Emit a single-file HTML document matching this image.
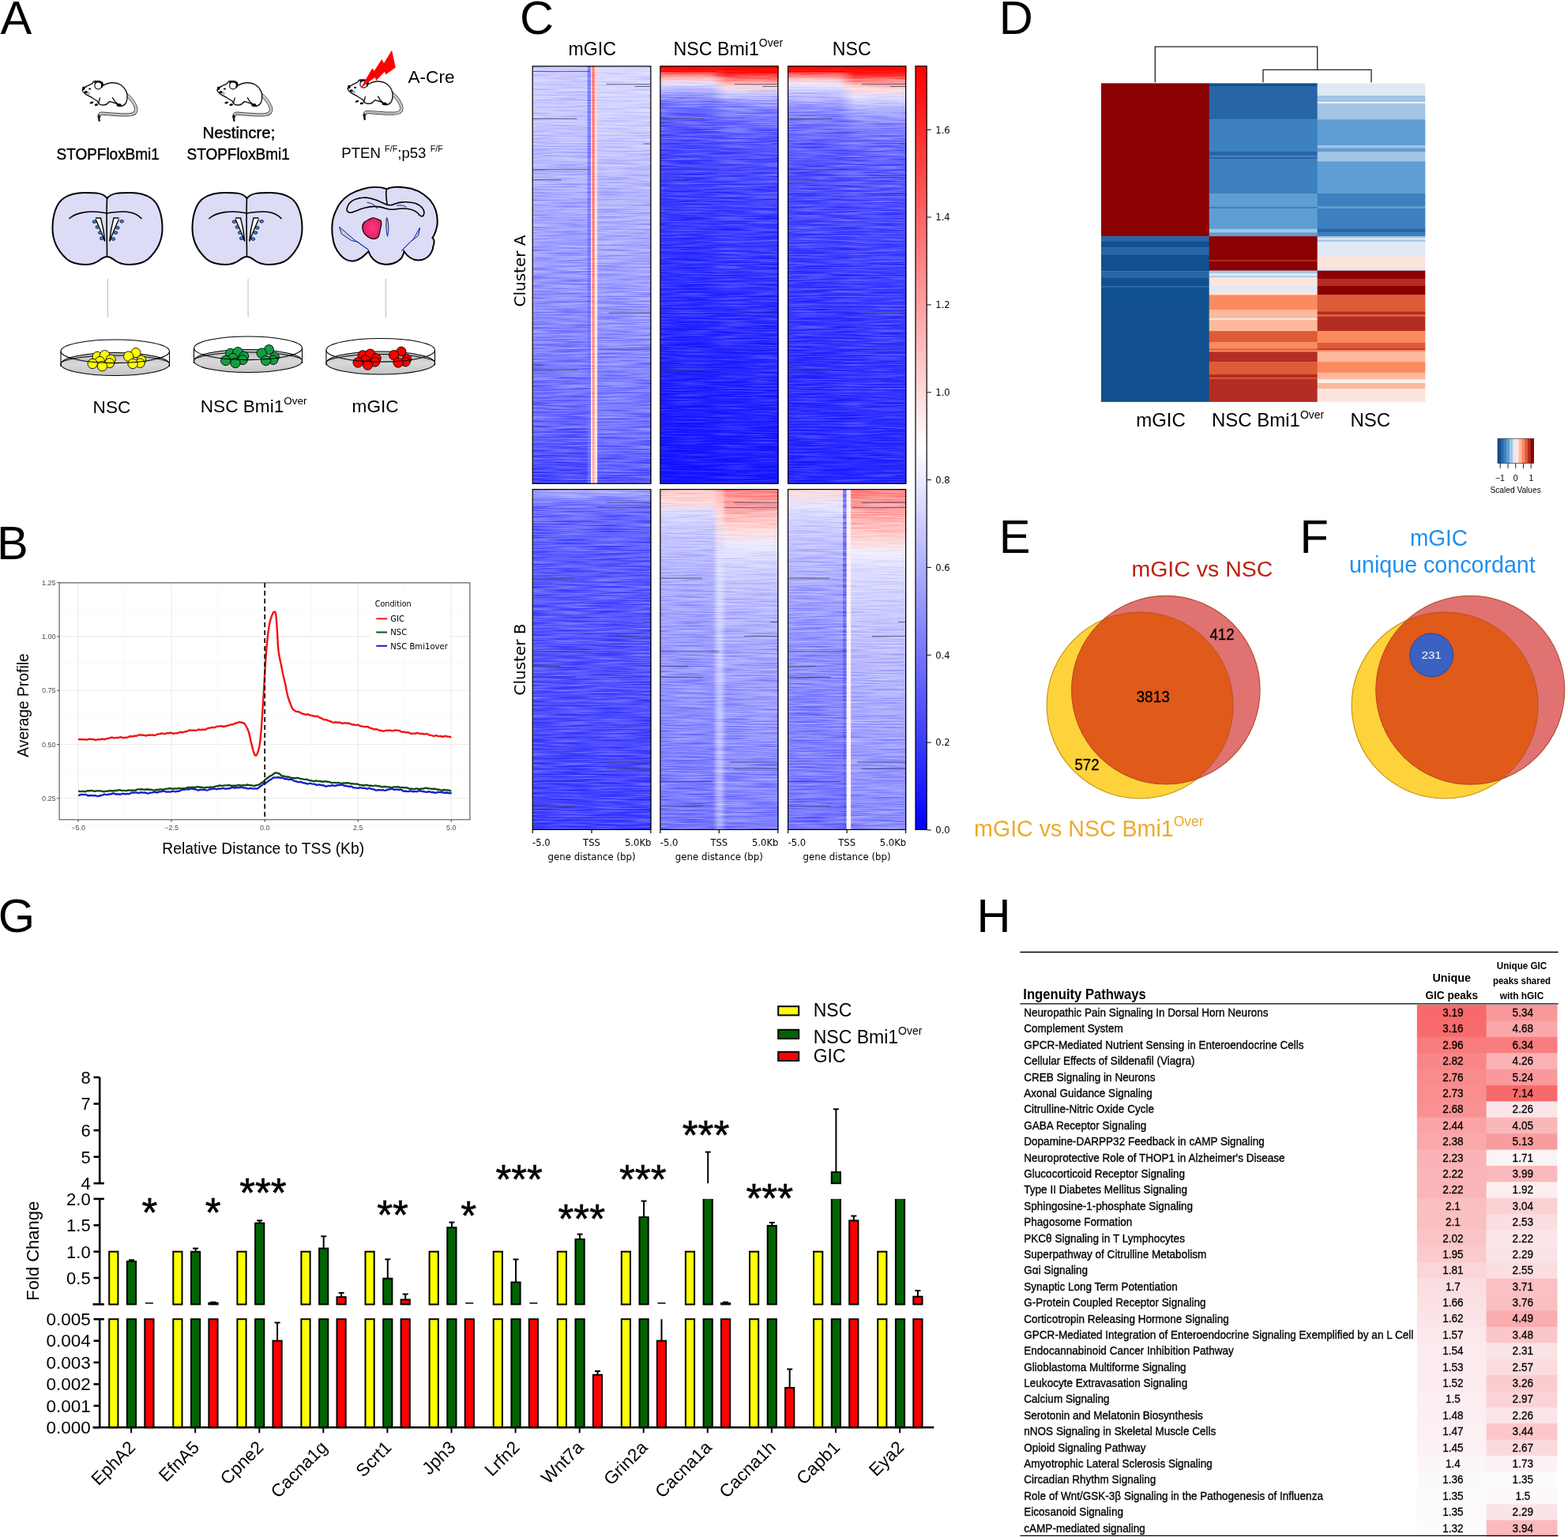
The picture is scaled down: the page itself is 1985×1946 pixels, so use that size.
<!DOCTYPE html>
<html><head><meta charset="utf-8"><title>Figure</title>
<style>html,body{margin:0;padding:0;background:#fff;overflow:hidden}svg{display:block}</style>
</head><body>
<svg width="1985" height="1946" viewBox="0 0 1985 1946">
<defs>
<linearGradient id="dishg" x1="0" y1="0" x2="0" y2="1"><stop offset="0" stop-color="#b8b8b8"/><stop offset="0.5" stop-color="#d9d9d9"/><stop offset="1" stop-color="#c4c4c4"/></linearGradient>

<linearGradient id="g1" x1="0" y1="0" x2="0" y2="1"><stop offset="0.0000" stop-color="#cfcfff"/><stop offset="0.1260" stop-color="#c7c7ff"/><stop offset="0.3148" stop-color="#adadff"/><stop offset="0.5037" stop-color="#9999ff"/><stop offset="0.6925" stop-color="#8080ff"/><stop offset="0.8625" stop-color="#6666ff"/><stop offset="1.0000" stop-color="#4242ff"/></linearGradient>
<linearGradient id="g2" x1="0" y1="0" x2="0" y2="1"><stop offset="0.0000" stop-color="#d9d9ff"/><stop offset="0.1260" stop-color="#d1d1ff"/><stop offset="0.3148" stop-color="#b5b5ff"/><stop offset="0.5037" stop-color="#a3a3ff"/><stop offset="0.6925" stop-color="#8c8cff"/><stop offset="0.8625" stop-color="#7575ff"/><stop offset="1.0000" stop-color="#5454ff"/></linearGradient>
<linearGradient id="g3" x1="0" y1="0" x2="0" y2="1"><stop offset="0.0000" stop-color="#8585ff"/><stop offset="0.5981" stop-color="#7a7aff"/><stop offset="1.0000" stop-color="#6b6bff"/></linearGradient>
<linearGradient id="g4" x1="0" y1="0" x2="0" y2="1"><stop offset="0.0000" stop-color="#ffd9d9"/><stop offset="0.5981" stop-color="#ffe6e6"/><stop offset="1.0000" stop-color="#fff7f7"/></linearGradient>
<linearGradient id="g5" x1="0" y1="0" x2="0" y2="1"><stop offset="0.0000" stop-color="#ff7373"/><stop offset="0.4093" stop-color="#ff7a7a"/><stop offset="0.7870" stop-color="#ff9494"/><stop offset="1.0000" stop-color="#ffb2b2"/></linearGradient>
<linearGradient id="g6" x1="0" y1="0" x2="0" y2="1"><stop offset="0.0000" stop-color="#ffd1d1"/><stop offset="0.5981" stop-color="#ffe6e6"/><stop offset="1.0000" stop-color="#ffe0e0"/></linearGradient>
<linearGradient id="g7" x1="0" y1="0" x2="0" y2="1"><stop offset="0.0000" stop-color="#ff0000"/><stop offset="0.0108" stop-color="#ff0f0f"/><stop offset="0.0202" stop-color="#ff7373"/><stop offset="0.0315" stop-color="#ffc7c7"/><stop offset="0.0429" stop-color="#e0e0ff"/><stop offset="0.0618" stop-color="#adadff"/><stop offset="0.0882" stop-color="#7878ff"/><stop offset="0.1354" stop-color="#5c5cff"/><stop offset="0.2015" stop-color="#4747ff"/><stop offset="0.3148" stop-color="#3b3bff"/><stop offset="0.5037" stop-color="#3030ff"/><stop offset="0.6925" stop-color="#2424ff"/><stop offset="1.0000" stop-color="#1414ff"/></linearGradient>
<linearGradient id="g8" x1="0" y1="0" x2="0" y2="1"><stop offset="0.0000" stop-color="#ff0000"/><stop offset="0.0164" stop-color="#ff0d0d"/><stop offset="0.0259" stop-color="#ff5454"/><stop offset="0.0372" stop-color="#ff9999"/><stop offset="0.0485" stop-color="#ffd9d9"/><stop offset="0.0674" stop-color="#ccccff"/><stop offset="0.0976" stop-color="#8c8cff"/><stop offset="0.1449" stop-color="#6969ff"/><stop offset="0.2110" stop-color="#4f4fff"/><stop offset="0.3337" stop-color="#4040ff"/><stop offset="0.5037" stop-color="#3333ff"/><stop offset="0.6925" stop-color="#2929ff"/><stop offset="1.0000" stop-color="#1a1aff"/></linearGradient>
<linearGradient id="m9g" gradientUnits="userSpaceOnUse" x1="900.3" y1="0" x2="920.3" y2="0"><stop offset="0" stop-color="#000"/><stop offset="1" stop-color="#fff"/></linearGradient><mask id="m9" maskUnits="userSpaceOnUse" x="900.3" y="83.3" width="85.6" height="529.5"><rect x="900.3" y="83.3" width="85.6" height="529.5" fill="url(#m9g)"/></mask>
<linearGradient id="g10" x1="0" y1="0" x2="0" y2="1"><stop offset="0.0000" stop-color="#ff0000"/><stop offset="0.0127" stop-color="#ff1414"/><stop offset="0.0221" stop-color="#ff7878"/><stop offset="0.0334" stop-color="#ffc7c7"/><stop offset="0.0448" stop-color="#ebebff"/><stop offset="0.0655" stop-color="#c4c4ff"/><stop offset="0.1071" stop-color="#8c8cff"/><stop offset="0.1486" stop-color="#7070ff"/><stop offset="0.1958" stop-color="#5e5eff"/><stop offset="0.3148" stop-color="#4a4aff"/><stop offset="0.5037" stop-color="#3b3bff"/><stop offset="0.6925" stop-color="#3030ff"/><stop offset="1.0000" stop-color="#2424ff"/></linearGradient>
<linearGradient id="g11" x1="0" y1="0" x2="0" y2="1"><stop offset="0.0000" stop-color="#ff0000"/><stop offset="0.0183" stop-color="#ff0f0f"/><stop offset="0.0297" stop-color="#ff6363"/><stop offset="0.0429" stop-color="#ffabab"/><stop offset="0.0561" stop-color="#ffdede"/><stop offset="0.0788" stop-color="#dbdbff"/><stop offset="0.1165" stop-color="#a1a1ff"/><stop offset="0.1637" stop-color="#7a7aff"/><stop offset="0.2204" stop-color="#6161ff"/><stop offset="0.3337" stop-color="#4f4fff"/><stop offset="0.5037" stop-color="#4040ff"/><stop offset="0.6925" stop-color="#3636ff"/><stop offset="1.0000" stop-color="#2626ff"/></linearGradient>
<linearGradient id="m12g" gradientUnits="userSpaceOnUse" x1="1062.1" y1="0" x2="1082.1" y2="0"><stop offset="0" stop-color="#000"/><stop offset="1" stop-color="#fff"/></linearGradient><mask id="m12" maskUnits="userSpaceOnUse" x="1062.1" y="83.3" width="85.6" height="529.5"><rect x="1062.1" y="83.3" width="85.6" height="529.5" fill="url(#m12g)"/></mask>
<linearGradient id="g13" x1="0" y1="0" x2="0" y2="1"><stop offset="0.0000" stop-color="#adadff"/><stop offset="0.0208" stop-color="#9999ff"/><stop offset="0.0463" stop-color="#7373ff"/><stop offset="0.0949" stop-color="#6666ff"/><stop offset="0.1991" stop-color="#5c5cff"/><stop offset="0.5347" stop-color="#5252ff"/><stop offset="1.0000" stop-color="#4040ff"/></linearGradient>
<linearGradient id="g14" x1="0" y1="0" x2="0" y2="1"><stop offset="0.0000" stop-color="#ffc7c7"/><stop offset="0.0370" stop-color="#ffdbdb"/><stop offset="0.0694" stop-color="#dbdbff"/><stop offset="0.1181" stop-color="#c9c9ff"/><stop offset="0.1875" stop-color="#bdbdff"/><stop offset="0.2546" stop-color="#b2b2ff"/><stop offset="0.4120" stop-color="#a1a1ff"/><stop offset="0.5625" stop-color="#9494ff"/><stop offset="0.7662" stop-color="#8585ff"/><stop offset="1.0000" stop-color="#7575ff"/></linearGradient>
<linearGradient id="g15" x1="0" y1="0" x2="0" y2="1"><stop offset="0.0000" stop-color="#ff8585"/><stop offset="0.0486" stop-color="#ffa1a1"/><stop offset="0.0833" stop-color="#ffbfbf"/><stop offset="0.1181" stop-color="#ffdbdb"/><stop offset="0.1644" stop-color="#ebebff"/><stop offset="0.2106" stop-color="#d9d9ff"/><stop offset="0.2801" stop-color="#c4c4ff"/><stop offset="0.4120" stop-color="#b0b0ff"/><stop offset="0.5347" stop-color="#a3a3ff"/><stop offset="0.7662" stop-color="#9191ff"/><stop offset="1.0000" stop-color="#8080ff"/></linearGradient>
<linearGradient id="m16g" gradientUnits="userSpaceOnUse" x1="908.3" y1="0" x2="916.3" y2="0"><stop offset="0" stop-color="#000"/><stop offset="1" stop-color="#fff"/></linearGradient><mask id="m16" maskUnits="userSpaceOnUse" x="908.3" y="619.0" width="77.6" height="432.0"><rect x="908.3" y="619.0" width="77.6" height="432.0" fill="url(#m16g)"/></mask>
<linearGradient id="g17" x1="0" y1="0" x2="0" y2="1"><stop offset="0.0000" stop-color="#ffb2b2"/><stop offset="0.0718" stop-color="#ffd9d9"/><stop offset="0.1875" stop-color="#e0e0ff"/><stop offset="0.4190" stop-color="#ccccff"/><stop offset="0.7662" stop-color="#bdbdff"/><stop offset="1.0000" stop-color="#adadff"/></linearGradient>
<linearGradient id="m18g" x1="0" y1="0" x2="1" y2="0"><stop offset="0" stop-color="#fff" stop-opacity="0"/><stop offset="0.4" stop-color="#fff" stop-opacity="1"/><stop offset="0.65" stop-color="#fff" stop-opacity="1"/><stop offset="1" stop-color="#fff" stop-opacity="0"/></linearGradient><mask id="m18" maskUnits="userSpaceOnUse" x="902.3" y="619.0" width="17.0" height="432.0"><rect x="902.3" y="619.0" width="17.0" height="432.0" fill="url(#m18g)"/></mask>
<linearGradient id="g19" x1="0" y1="0" x2="0" y2="1"><stop offset="0.0000" stop-color="#ffd9d9"/><stop offset="0.0486" stop-color="#e6e6ff"/><stop offset="0.0949" stop-color="#d1d1ff"/><stop offset="0.1875" stop-color="#bdbdff"/><stop offset="0.3264" stop-color="#a3a3ff"/><stop offset="0.5023" stop-color="#9191ff"/><stop offset="0.7662" stop-color="#8080ff"/><stop offset="1.0000" stop-color="#7373ff"/></linearGradient>
<linearGradient id="g20" x1="0" y1="0" x2="0" y2="1"><stop offset="0.0000" stop-color="#8080ff"/><stop offset="0.1875" stop-color="#7373ff"/><stop offset="1.0000" stop-color="#6b6bff"/></linearGradient>
<linearGradient id="g21" x1="0" y1="0" x2="0" y2="1"><stop offset="0.0000" stop-color="#fff0f0"/><stop offset="1.0000" stop-color="#fff7f7"/></linearGradient>
<linearGradient id="g22" x1="0" y1="0" x2="0" y2="1"><stop offset="0.0000" stop-color="#ff7a7a"/><stop offset="0.0394" stop-color="#ff9999"/><stop offset="0.0972" stop-color="#ffb8b8"/><stop offset="0.1551" stop-color="#ffdbdb"/><stop offset="0.1875" stop-color="#f0f0ff"/><stop offset="0.2338" stop-color="#dedeff"/><stop offset="0.3727" stop-color="#c9c9ff"/><stop offset="0.5347" stop-color="#b8b8ff"/><stop offset="0.7662" stop-color="#9e9eff"/><stop offset="1.0000" stop-color="#8c8cff"/></linearGradient>
<filter id="streak" x="0" y="0" width="1" height="1" color-interpolation-filters="sRGB"><feTurbulence type="fractalNoise" baseFrequency="0.02 0.6" numOctaves="2" seed="7"/><feColorMatrix type="matrix" values="2.2 0 0 0 -0.6  2.2 0 0 0 -0.6  2.2 0 0 0 -0.6  0 0 0 0 1"/></filter>
<linearGradient id="cbar" x1="0" y1="1" x2="0" y2="0"><stop offset="0" stop-color="#0000ff"/><stop offset="0.5" stop-color="#ffffff"/><stop offset="1" stop-color="#ff0000"/></linearGradient>

<clipPath id="vc1"><circle cx="1443.1" cy="893.0" r="118.0"/></clipPath><clipPath id="vc1b"><circle cx="1475.9" cy="873.6" r="119.2"/></clipPath>
<clipPath id="vc2"><circle cx="1829.1" cy="893.0" r="118.0"/></clipPath><clipPath id="vc2b"><circle cx="1861.3" cy="873.6" r="119.4"/></clipPath>


</defs>
<rect width="1985" height="1946" fill="#fff"/>
<text x="0.5" y="42.6" font-size="59.6" font-family="'Liberation Sans', Arial, sans-serif" >A</text>
<text x="-4.0" y="707.8" font-size="59.6" font-family="'Liberation Sans', Arial, sans-serif" >B</text>
<text x="658.0" y="42.6" font-size="59.6" font-family="'Liberation Sans', Arial, sans-serif" >C</text>
<text x="1264.7" y="42.6" font-size="59.6" font-family="'Liberation Sans', Arial, sans-serif" >D</text>
<text x="1264.8" y="700.0" font-size="59.6" font-family="'Liberation Sans', Arial, sans-serif" >E</text>
<text x="1645.4" y="700.0" font-size="59.6" font-family="'Liberation Sans', Arial, sans-serif" >F</text>
<text x="-2.2" y="1179.8" font-size="59.6" font-family="'Liberation Sans', Arial, sans-serif" >G</text>
<text x="1236.5" y="1179.8" font-size="59.6" font-family="'Liberation Sans', Arial, sans-serif" >H</text>
<g transform="translate(100,95) scale(1.0)" stroke-linecap="round" stroke-linejoin="round"><path d="M60.5,25 C65,29 70,35 72,41 C73.5,46 71,49.3 65,50.2 C55,50.8 40,49.6 30,48.6 C27.5,48.4 25.8,50 25.4,52.5" fill="none" stroke="#3a3a3a" stroke-width="4.2"/><path d="M60.5,25 C65,29 70,35 72,41 C73.5,46 71,49.3 65,50.2 C55,50.8 40,49.6 30,48.6 C27.5,48.4 25.8,50 25.4,52.5" fill="none" stroke="#fff" stroke-width="2.4"/><path d="M60.5,25 C65,29 70,35 72,41 C73.5,46 71,49.3 65,50.2 C55,50.8 40,49.6 30,48.6 C27.5,48.4 25.8,50 25.4,52.5" fill="none" stroke="#777" stroke-width="0.8"/><path d="M25.4,51.5 C25.1,54 25.3,56 25.7,57.7" fill="none" stroke="#111" stroke-width="2.4"/><path d="M4.1,18.9 C6,16.5 8,15 10,14 C12.5,12.6 15,11.6 16.8,10.8 C17.5,9 18.5,7.8 20.5,7.6 C22,7.5 23.5,8 25,8.6 L30.5,13.2 C34,11 38,9.8 41.2,9.7 C46,9.6 50,10.5 53,12.5 C57,15.5 60,19.5 61,24.7 C61.5,28.5 61,32 59.7,35 C58.5,37.5 56.5,39 53.6,39.5 C51,39.5 49,38 47.4,36 C44,35 41,34 38.5,33.5 C37,35.5 35,37.5 32.5,37.8 C30,38.2 27,38 25.5,36.5 C24.5,35.5 24,34.5 23.5,33 C20,31 17.5,29.5 15.5,28 C12,26.5 9,25 7,23 C5.5,21.8 4.5,20.5 4.1,18.9 Z" fill="#fff" stroke="#111" stroke-width="1.4"/><circle cx="24.3" cy="13.4" r="4.4" fill="#fff" stroke="#111" stroke-width="1.2"/><path d="M20.2,9.6 C22.5,7.3 27.5,7.4 29.6,10.2 C30.3,11.8 30,13.6 28.8,15.2" fill="none" stroke="#000" stroke-width="2"/><ellipse cx="13.7" cy="17.6" rx="1.6" ry="1.1" fill="#000"/><ellipse cx="5.9" cy="16.8" rx="1.7" ry="2.3" fill="#000"/><ellipse cx="8.8" cy="21.6" rx="1.9" ry="1.6" fill="#000"/><path d="M10,22.5 C11,23.5 12,24 13,24.5 M11,21 L13.5,23" fill="none" stroke="#222" stroke-width="0.7"/><path d="M26.5,29 C26,31 25.4,33 24.8,35.5" fill="none" stroke="#111" stroke-width="1.3"/><path d="M42.6,28.8 C44,32 46,34.5 48.5,36.2" fill="none" stroke="#111" stroke-width="1.4"/><ellipse cx="16" cy="35" rx="2.4" ry="1.2" fill="#000" transform="rotate(-15 16 35)"/><ellipse cx="22" cy="37.6" rx="2.3" ry="1.3" fill="#000" transform="rotate(-10 22 37.6)"/><ellipse cx="50.6" cy="38" rx="3" ry="1.9" fill="#000"/><path d="M54,38.6 C56.8,38.2 58.8,36.4 60,33.5" fill="none" stroke="#333" stroke-width="0.9"/></g>
<g transform="translate(270.7,95) scale(1.0)" stroke-linecap="round" stroke-linejoin="round"><path d="M60.5,25 C65,29 70,35 72,41 C73.5,46 71,49.3 65,50.2 C55,50.8 40,49.6 30,48.6 C27.5,48.4 25.8,50 25.4,52.5" fill="none" stroke="#3a3a3a" stroke-width="4.2"/><path d="M60.5,25 C65,29 70,35 72,41 C73.5,46 71,49.3 65,50.2 C55,50.8 40,49.6 30,48.6 C27.5,48.4 25.8,50 25.4,52.5" fill="none" stroke="#fff" stroke-width="2.4"/><path d="M60.5,25 C65,29 70,35 72,41 C73.5,46 71,49.3 65,50.2 C55,50.8 40,49.6 30,48.6 C27.5,48.4 25.8,50 25.4,52.5" fill="none" stroke="#777" stroke-width="0.8"/><path d="M25.4,51.5 C25.1,54 25.3,56 25.7,57.7" fill="none" stroke="#111" stroke-width="2.4"/><path d="M4.1,18.9 C6,16.5 8,15 10,14 C12.5,12.6 15,11.6 16.8,10.8 C17.5,9 18.5,7.8 20.5,7.6 C22,7.5 23.5,8 25,8.6 L30.5,13.2 C34,11 38,9.8 41.2,9.7 C46,9.6 50,10.5 53,12.5 C57,15.5 60,19.5 61,24.7 C61.5,28.5 61,32 59.7,35 C58.5,37.5 56.5,39 53.6,39.5 C51,39.5 49,38 47.4,36 C44,35 41,34 38.5,33.5 C37,35.5 35,37.5 32.5,37.8 C30,38.2 27,38 25.5,36.5 C24.5,35.5 24,34.5 23.5,33 C20,31 17.5,29.5 15.5,28 C12,26.5 9,25 7,23 C5.5,21.8 4.5,20.5 4.1,18.9 Z" fill="#fff" stroke="#111" stroke-width="1.4"/><circle cx="24.3" cy="13.4" r="4.4" fill="#fff" stroke="#111" stroke-width="1.2"/><path d="M20.2,9.6 C22.5,7.3 27.5,7.4 29.6,10.2 C30.3,11.8 30,13.6 28.8,15.2" fill="none" stroke="#000" stroke-width="2"/><ellipse cx="13.7" cy="17.6" rx="1.6" ry="1.1" fill="#000"/><ellipse cx="5.9" cy="16.8" rx="1.7" ry="2.3" fill="#000"/><ellipse cx="8.8" cy="21.6" rx="1.9" ry="1.6" fill="#000"/><path d="M10,22.5 C11,23.5 12,24 13,24.5 M11,21 L13.5,23" fill="none" stroke="#222" stroke-width="0.7"/><path d="M26.5,29 C26,31 25.4,33 24.8,35.5" fill="none" stroke="#111" stroke-width="1.3"/><path d="M42.6,28.8 C44,32 46,34.5 48.5,36.2" fill="none" stroke="#111" stroke-width="1.4"/><ellipse cx="16" cy="35" rx="2.4" ry="1.2" fill="#000" transform="rotate(-15 16 35)"/><ellipse cx="22" cy="37.6" rx="2.3" ry="1.3" fill="#000" transform="rotate(-10 22 37.6)"/><ellipse cx="50.6" cy="38" rx="3" ry="1.9" fill="#000"/><path d="M54,38.6 C56.8,38.2 58.8,36.4 60,33.5" fill="none" stroke="#333" stroke-width="0.9"/></g>
<g transform="translate(436,93.3) scale(1.0)" stroke-linecap="round" stroke-linejoin="round"><path d="M60.5,25 C65,29 70,35 72,41 C73.5,46 71,49.3 65,50.2 C55,50.8 40,49.6 30,48.6 C27.5,48.4 25.8,50 25.4,52.5" fill="none" stroke="#3a3a3a" stroke-width="4.2"/><path d="M60.5,25 C65,29 70,35 72,41 C73.5,46 71,49.3 65,50.2 C55,50.8 40,49.6 30,48.6 C27.5,48.4 25.8,50 25.4,52.5" fill="none" stroke="#fff" stroke-width="2.4"/><path d="M60.5,25 C65,29 70,35 72,41 C73.5,46 71,49.3 65,50.2 C55,50.8 40,49.6 30,48.6 C27.5,48.4 25.8,50 25.4,52.5" fill="none" stroke="#777" stroke-width="0.8"/><path d="M25.4,51.5 C25.1,54 25.3,56 25.7,57.7" fill="none" stroke="#111" stroke-width="2.4"/><path d="M4.1,18.9 C6,16.5 8,15 10,14 C12.5,12.6 15,11.6 16.8,10.8 C17.5,9 18.5,7.8 20.5,7.6 C22,7.5 23.5,8 25,8.6 L30.5,13.2 C34,11 38,9.8 41.2,9.7 C46,9.6 50,10.5 53,12.5 C57,15.5 60,19.5 61,24.7 C61.5,28.5 61,32 59.7,35 C58.5,37.5 56.5,39 53.6,39.5 C51,39.5 49,38 47.4,36 C44,35 41,34 38.5,33.5 C37,35.5 35,37.5 32.5,37.8 C30,38.2 27,38 25.5,36.5 C24.5,35.5 24,34.5 23.5,33 C20,31 17.5,29.5 15.5,28 C12,26.5 9,25 7,23 C5.5,21.8 4.5,20.5 4.1,18.9 Z" fill="#fff" stroke="#111" stroke-width="1.4"/><circle cx="24.3" cy="13.4" r="4.4" fill="#fff" stroke="#111" stroke-width="1.2"/><path d="M20.2,9.6 C22.5,7.3 27.5,7.4 29.6,10.2 C30.3,11.8 30,13.6 28.8,15.2" fill="none" stroke="#000" stroke-width="2"/><ellipse cx="13.7" cy="17.6" rx="1.6" ry="1.1" fill="#000"/><ellipse cx="5.9" cy="16.8" rx="1.7" ry="2.3" fill="#000"/><ellipse cx="8.8" cy="21.6" rx="1.9" ry="1.6" fill="#000"/><path d="M10,22.5 C11,23.5 12,24 13,24.5 M11,21 L13.5,23" fill="none" stroke="#222" stroke-width="0.7"/><path d="M26.5,29 C26,31 25.4,33 24.8,35.5" fill="none" stroke="#111" stroke-width="1.3"/><path d="M42.6,28.8 C44,32 46,34.5 48.5,36.2" fill="none" stroke="#111" stroke-width="1.4"/><ellipse cx="16" cy="35" rx="2.4" ry="1.2" fill="#000" transform="rotate(-15 16 35)"/><ellipse cx="22" cy="37.6" rx="2.3" ry="1.3" fill="#000" transform="rotate(-10 22 37.6)"/><ellipse cx="50.6" cy="38" rx="3" ry="1.9" fill="#000"/><path d="M54,38.6 C56.8,38.2 58.8,36.4 60,33.5" fill="none" stroke="#333" stroke-width="0.9"/></g>
<path d="M456.4,111.8 L471.4,86.3 L473.5,89.9 L483.4,74.9 L486,80 L496.1,63.6 L500.8,85.5 L488.2,94.5 L487.1,90.8 L476.2,102.1 L474.6,98 Z" fill="#ff0000"/>
<text x="516.5" y="105.2" font-size="22.6" font-family="'Liberation Sans', Arial, sans-serif" >A-Cre</text>
<text x="71.6" y="202.0" font-size="20" font-family="'Liberation Sans', Arial, sans-serif" textLength="130.2" lengthAdjust="spacingAndGlyphs" stroke="#000" stroke-width="0.45">STOPFloxBmi1</text>
<text x="256.5" y="174.6" font-size="20" font-family="'Liberation Sans', Arial, sans-serif" textLength="91.8" lengthAdjust="spacingAndGlyphs" stroke="#000" stroke-width="0.45">Nestincre;</text>
<text x="236.6" y="202.0" font-size="20" font-family="'Liberation Sans', Arial, sans-serif" textLength="130.2" lengthAdjust="spacingAndGlyphs" stroke="#000" stroke-width="0.45">STOPFloxBmi1</text>
<text x="432.3" y="199.7" font-size="18.6" font-family="'Liberation Sans', Arial, sans-serif">PTEN <tspan font-size="10.8" dy="-7.5">F/F</tspan><tspan dy="7.5">;p53 </tspan><tspan font-size="10.8" dy="-7.5">F/F</tspan></text>
<g transform="translate(66.5,244)"><path d="M69,7 C64,0 55,0 40,0 C27,0 20,3 14,7 C4,14 0,30 0,45 C0,62 8,75 18,84 C25,90 33,91 42,91 C50,91 55,89 60,85 C64,82 67,81 69,81 C71,81 74,82 78,85 C83,89 88,91 97,91 C106,91 114,90 121,84 C131,75 139,62 139,45 C139,30 135,14 125,7 C119,3 112,0 99,0 C84,0 75,0 69,7 Z" fill="#dcdcf7" stroke="#000" stroke-width="2"/><path d="M69,7 C68,30 69,60 69,81" fill="none" stroke="#000" stroke-width="1.6"/><path d="M21,33 C30,24 50,22 69,26 C88,23 103,22 113,33" fill="none" stroke="#000" stroke-width="1.6"/><path d="M54.5,32 L61,32 C63.5,41 65.5,52 66.2,61.5 C62.5,52 58,41 54.5,33.5" fill="#fff" stroke="#000" stroke-width="1.4"/><path d="M84,32 L77.5,32 C75,41 73,52 72.3,61.5 C76,52 80.5,41 84,33.5" fill="#fff" stroke="#000" stroke-width="1.4"/><ellipse cx="53" cy="36.7" rx="2.3" ry="1.8" fill="#3a86ff" stroke="#000" stroke-width="0.8"/><ellipse cx="56.8" cy="43.5" rx="2.3" ry="1.8" fill="#3a86ff" stroke="#000" stroke-width="0.8"/><ellipse cx="60.2" cy="50.6" rx="2.3" ry="1.8" fill="#3a86ff" stroke="#000" stroke-width="0.8"/><ellipse cx="62.2" cy="57.8" rx="2.3" ry="1.8" fill="#3a86ff" stroke="#000" stroke-width="0.8"/><ellipse cx="87.7" cy="36.3" rx="2.3" ry="1.8" fill="#3a86ff" stroke="#000" stroke-width="0.8"/><ellipse cx="82.3" cy="44.4" rx="2.3" ry="1.8" fill="#3a86ff" stroke="#000" stroke-width="0.8"/><ellipse cx="80" cy="50.6" rx="2.3" ry="1.8" fill="#3a86ff" stroke="#000" stroke-width="0.8"/><ellipse cx="76.9" cy="58.6" rx="2.3" ry="1.8" fill="#3a86ff" stroke="#000" stroke-width="0.8"/></g>
<g transform="translate(243.5,244)"><path d="M69,7 C64,0 55,0 40,0 C27,0 20,3 14,7 C4,14 0,30 0,45 C0,62 8,75 18,84 C25,90 33,91 42,91 C50,91 55,89 60,85 C64,82 67,81 69,81 C71,81 74,82 78,85 C83,89 88,91 97,91 C106,91 114,90 121,84 C131,75 139,62 139,45 C139,30 135,14 125,7 C119,3 112,0 99,0 C84,0 75,0 69,7 Z" fill="#dcdcf7" stroke="#000" stroke-width="2"/><path d="M69,7 C68,30 69,60 69,81" fill="none" stroke="#000" stroke-width="1.6"/><path d="M21,33 C30,24 50,22 69,26 C88,23 103,22 113,33" fill="none" stroke="#000" stroke-width="1.6"/><path d="M54.5,32 L61,32 C63.5,41 65.5,52 66.2,61.5 C62.5,52 58,41 54.5,33.5" fill="#fff" stroke="#000" stroke-width="1.4"/><path d="M84,32 L77.5,32 C75,41 73,52 72.3,61.5 C76,52 80.5,41 84,33.5" fill="#fff" stroke="#000" stroke-width="1.4"/><ellipse cx="53" cy="36.7" rx="2.3" ry="1.8" fill="#3a86ff" stroke="#000" stroke-width="0.8"/><ellipse cx="56.8" cy="43.5" rx="2.3" ry="1.8" fill="#3a86ff" stroke="#000" stroke-width="0.8"/><ellipse cx="60.2" cy="50.6" rx="2.3" ry="1.8" fill="#3a86ff" stroke="#000" stroke-width="0.8"/><ellipse cx="62.2" cy="57.8" rx="2.3" ry="1.8" fill="#3a86ff" stroke="#000" stroke-width="0.8"/><ellipse cx="87.7" cy="36.3" rx="2.3" ry="1.8" fill="#3a86ff" stroke="#000" stroke-width="0.8"/><ellipse cx="82.3" cy="44.4" rx="2.3" ry="1.8" fill="#3a86ff" stroke="#000" stroke-width="0.8"/><ellipse cx="80" cy="50.6" rx="2.3" ry="1.8" fill="#3a86ff" stroke="#000" stroke-width="0.8"/><ellipse cx="76.9" cy="58.6" rx="2.3" ry="1.8" fill="#3a86ff" stroke="#000" stroke-width="0.8"/></g>
<g transform="translate(419.5,236.3)"><path d="M70,3 C62,0 50,0 40,3 C25,7 12,15 6,30 C0,42 0,55 2,66 C3,74 6,80 11,86 C16,92 22,95 29,94 C36,93 41,88 47,82 C49,89 55,96 65,98 C75,100 84,96 89,90 C91,86 92,84 92,82 C96,88 103,94 112,93 C122,92 128,84 129,75 C131,70 130,66 128,65 C131,60 133,55 134,48 C135,36 132,25 124,16 C116,8 105,2 92,1 C84,0 76,0 70,3 Z" fill="#dcdcf7" stroke="#000" stroke-width="2"/><path d="M70,3 C68,10 70,18 71,24" fill="none" stroke="#000" stroke-width="1.6"/><path d="M20,27 C22,18 30,15 40,14 C48,13 60,18 68,22 C72,24 76,24 80,22 C88,19 98,19 106,21 C114,24 119,30 117,35 C116,39 112,38 110,34 C104,28 95,27 86,28 C80,29 76,30 70,28 C62,25 52,24 42,27 C34,29 28,33 24,33 C20,33 19,30 20,27 Z" fill="#dcdcf7" stroke="#000" stroke-width="1.6"/><path d="M45,20 C52,21 56,24 58,28" fill="none" stroke="#0020a0" stroke-width="1"/><path d="M83,24 C88,23 92,24 95,26" fill="none" stroke="#0020a0" stroke-width="1"/><path d="M10,51 L13,60 L25,68 L33,70 L47,80 L30,68 Z" fill="#cfcfd6" stroke="#0020a0" stroke-width="1"/><path d="M112,52 L110,62 L100,70 L89,81 L104,66 Z" fill="#cfcfd6" stroke="#0020a0" stroke-width="1"/><path d="M70,39 C73,46 73,56 71,63 C69,56 69,46 70,39 Z" fill="#f0d040" stroke="#0020a0" stroke-width="1"/><defs><radialGradient id="tum" cx="0.55" cy="0.5" r="0.6"><stop offset="0" stop-color="#ff3880"/><stop offset="1" stop-color="#d81e5a"/></radialGradient></defs><g transform="translate(-1.5,9)"><path d="M52,31 C56,29 60,32 64,34 C66,37 64,42 63,47 C62,52 62,56 57,57 C52,58 46,54 43,50 C40,45 40,39 43,36 C46,34 49,33 52,31 Z" fill="url(#tum)" stroke="#000" stroke-width="1.2"/></g></g>
<line x1="136.5" y1="352.7" x2="136.5" y2="401.5" stroke="#bdbdbd" stroke-width="1"/>
<line x1="314.1" y1="352.7" x2="314.1" y2="401.5" stroke="#bdbdbd" stroke-width="1"/>
<line x1="488.5" y1="352.7" x2="488.5" y2="401.5" stroke="#bdbdbd" stroke-width="1"/>
<g><ellipse cx="145.75" cy="461" rx="68.75" ry="14.5" fill="url(#dishg)" stroke="#000" stroke-width="1.1"/><line x1="77" y1="445" x2="77" y2="464" stroke="#000" stroke-width="1.1"/><line x1="214.5" y1="445" x2="214.5" y2="464" stroke="#000" stroke-width="1.1"/><path d="M77,459 C97,447 194.5,447 214.5,459" fill="none" stroke="#000" stroke-width="1"/><circle cx="123.3" cy="451.5" r="6.2" fill="#ffff00" stroke="#000" stroke-width="0.9"/><circle cx="132.6" cy="450" r="6.4" fill="#ffff00" stroke="#000" stroke-width="0.9"/><circle cx="140.3" cy="455.1" r="6.0" fill="#ffff00" stroke="#000" stroke-width="0.9"/><circle cx="126.4" cy="457.4" r="6.0" fill="#ffff00" stroke="#000" stroke-width="0.9"/><circle cx="117.2" cy="460.5" r="6.2" fill="#ffff00" stroke="#000" stroke-width="0.9"/><circle cx="138.8" cy="459.7" r="6.0" fill="#ffff00" stroke="#000" stroke-width="0.9"/><circle cx="129.5" cy="463.6" r="6.2" fill="#ffff00" stroke="#000" stroke-width="0.9"/><circle cx="172" cy="446.6" r="6.0" fill="#ffff00" stroke="#000" stroke-width="0.9"/><circle cx="162.7" cy="451.2" r="6.2" fill="#ffff00" stroke="#000" stroke-width="0.9"/><circle cx="179" cy="455.9" r="5.8" fill="#ffff00" stroke="#000" stroke-width="0.9"/><circle cx="177.4" cy="459.7" r="5.8" fill="#ffff00" stroke="#000" stroke-width="0.9"/><circle cx="168.1" cy="460.5" r="6.2" fill="#ffff00" stroke="#000" stroke-width="0.9"/><ellipse cx="145.75" cy="444.8" rx="68.75" ry="14.8" fill="none" stroke="#000" stroke-width="1.1"/></g>
<g><ellipse cx="314.0" cy="457" rx="68.5" ry="14.5" fill="url(#dishg)" stroke="#000" stroke-width="1.1"/><line x1="245.5" y1="441" x2="245.5" y2="460" stroke="#000" stroke-width="1.1"/><line x1="382.5" y1="441" x2="382.5" y2="460" stroke="#000" stroke-width="1.1"/><path d="M245.5,455 C265.5,443 362.5,443 382.5,455" fill="none" stroke="#000" stroke-width="1"/><circle cx="291.8" cy="447.5" r="6.2" fill="#10a040" stroke="#000" stroke-width="0.9"/><circle cx="301.1" cy="446" r="6.4" fill="#10a040" stroke="#000" stroke-width="0.9"/><circle cx="308.8" cy="451.1" r="6.0" fill="#10a040" stroke="#000" stroke-width="0.9"/><circle cx="294.9" cy="453.4" r="6.0" fill="#10a040" stroke="#000" stroke-width="0.9"/><circle cx="285.7" cy="456.5" r="6.2" fill="#10a040" stroke="#000" stroke-width="0.9"/><circle cx="307.3" cy="455.7" r="6.0" fill="#10a040" stroke="#000" stroke-width="0.9"/><circle cx="298.0" cy="459.6" r="6.2" fill="#10a040" stroke="#000" stroke-width="0.9"/><circle cx="340.5" cy="442.6" r="6.0" fill="#10a040" stroke="#000" stroke-width="0.9"/><circle cx="331.2" cy="447.2" r="6.2" fill="#10a040" stroke="#000" stroke-width="0.9"/><circle cx="347.5" cy="451.9" r="5.8" fill="#10a040" stroke="#000" stroke-width="0.9"/><circle cx="345.9" cy="455.7" r="5.8" fill="#10a040" stroke="#000" stroke-width="0.9"/><circle cx="336.6" cy="456.5" r="6.2" fill="#10a040" stroke="#000" stroke-width="0.9"/><ellipse cx="314.0" cy="440.8" rx="68.5" ry="14.8" fill="none" stroke="#000" stroke-width="1.1"/></g>
<g><ellipse cx="481.75" cy="459.5" rx="68.75" ry="14.5" fill="url(#dishg)" stroke="#000" stroke-width="1.1"/><line x1="413" y1="443.5" x2="413" y2="462.5" stroke="#000" stroke-width="1.1"/><line x1="550.5" y1="443.5" x2="550.5" y2="462.5" stroke="#000" stroke-width="1.1"/><path d="M413,457.5 C433,445.5 530.5,445.5 550.5,457.5" fill="none" stroke="#000" stroke-width="1"/><circle cx="459.3" cy="450.0" r="6.2" fill="#ff0000" stroke="#000" stroke-width="0.9"/><circle cx="468.6" cy="448.5" r="6.4" fill="#ff0000" stroke="#000" stroke-width="0.9"/><circle cx="476.3" cy="453.6" r="6.0" fill="#ff0000" stroke="#000" stroke-width="0.9"/><circle cx="462.4" cy="455.9" r="6.0" fill="#ff0000" stroke="#000" stroke-width="0.9"/><circle cx="453.2" cy="459.0" r="6.2" fill="#ff0000" stroke="#000" stroke-width="0.9"/><circle cx="474.8" cy="458.2" r="6.0" fill="#ff0000" stroke="#000" stroke-width="0.9"/><circle cx="465.5" cy="462.1" r="6.2" fill="#ff0000" stroke="#000" stroke-width="0.9"/><circle cx="508" cy="445.1" r="6.0" fill="#ff0000" stroke="#000" stroke-width="0.9"/><circle cx="498.7" cy="449.7" r="6.2" fill="#ff0000" stroke="#000" stroke-width="0.9"/><circle cx="515" cy="454.4" r="5.8" fill="#ff0000" stroke="#000" stroke-width="0.9"/><circle cx="513.4" cy="458.2" r="5.8" fill="#ff0000" stroke="#000" stroke-width="0.9"/><circle cx="504.1" cy="459.0" r="6.2" fill="#ff0000" stroke="#000" stroke-width="0.9"/><ellipse cx="481.75" cy="443.3" rx="68.75" ry="14.8" fill="none" stroke="#000" stroke-width="1.1"/></g>
<text x="117.6" y="523.0" font-size="22.6" font-family="'Liberation Sans', Arial, sans-serif" >NSC</text>
<text x="253.8" y="522.4" font-size="22.6" font-family="'Liberation Sans', Arial, sans-serif">NSC Bmi1<tspan font-size="13.5" dy="-10">Over</tspan></text>
<text x="445.6" y="522.4" font-size="22.6" font-family="'Liberation Sans', Arial, sans-serif" >mGIC</text>
<line x1="75.1" y1="1010.8" x2="594.9" y2="1010.8" stroke="#ebebeb" stroke-width="1.1"/>
<line x1="75.1" y1="942.5" x2="594.9" y2="942.5" stroke="#ebebeb" stroke-width="1.1"/>
<line x1="75.1" y1="874.2" x2="594.9" y2="874.2" stroke="#ebebeb" stroke-width="1.1"/>
<line x1="75.1" y1="805.9" x2="594.9" y2="805.9" stroke="#ebebeb" stroke-width="1.1"/>
<line x1="75.1" y1="737.6" x2="594.9" y2="737.6" stroke="#ebebeb" stroke-width="1.1"/>
<line x1="75.1" y1="976.6" x2="594.9" y2="976.6" stroke="#f3f3f3" stroke-width="0.6"/>
<line x1="75.1" y1="908.3" x2="594.9" y2="908.3" stroke="#f3f3f3" stroke-width="0.6"/>
<line x1="75.1" y1="840.0" x2="594.9" y2="840.0" stroke="#f3f3f3" stroke-width="0.6"/>
<line x1="75.1" y1="771.8" x2="594.9" y2="771.8" stroke="#f3f3f3" stroke-width="0.6"/>
<line x1="75.1" y1="1045.0" x2="594.9" y2="1045.0" stroke="#f3f3f3" stroke-width="0.6"/>
<line x1="99.1" y1="737.9" x2="99.1" y2="1037.8" stroke="#ebebeb" stroke-width="1.1"/>
<line x1="217.1" y1="737.9" x2="217.1" y2="1037.8" stroke="#ebebeb" stroke-width="1.1"/>
<line x1="335.2" y1="737.9" x2="335.2" y2="1037.8" stroke="#ebebeb" stroke-width="1.1"/>
<line x1="453.3" y1="737.9" x2="453.3" y2="1037.8" stroke="#ebebeb" stroke-width="1.1"/>
<line x1="571.3" y1="737.9" x2="571.3" y2="1037.8" stroke="#ebebeb" stroke-width="1.1"/>
<line x1="158.1" y1="737.9" x2="158.1" y2="1037.8" stroke="#f3f3f3" stroke-width="0.6"/>
<line x1="276.2" y1="737.9" x2="276.2" y2="1037.8" stroke="#f3f3f3" stroke-width="0.6"/>
<line x1="394.2" y1="737.9" x2="394.2" y2="1037.8" stroke="#f3f3f3" stroke-width="0.6"/>
<line x1="512.3" y1="737.9" x2="512.3" y2="1037.8" stroke="#f3f3f3" stroke-width="0.6"/>
<rect x="468" y="752" width="100" height="76" fill="#fff"/>
<polyline points="99.1,1006.6 99.7,1006.8 100.4,1006.8 101.3,1006.5 102.2,1006.1 103.2,1005.8 104.3,1005.9 105.5,1006.1 106.7,1006.1 108.0,1006.0 109.3,1006.3 110.7,1007.0 112.1,1007.5 113.5,1007.2 115.0,1007.0 116.5,1007.3 117.9,1007.4 119.0,1007.2 120.1,1007.1 121.2,1007.3 122.3,1007.8 123.5,1008.1 124.7,1007.9 125.9,1007.5 127.1,1007.2 128.3,1007.1 129.6,1006.8 130.9,1006.1 132.2,1005.7 133.5,1005.9 134.8,1006.2 136.1,1006.1 137.4,1005.6 138.6,1005.5 139.9,1005.5 141.2,1005.3 142.5,1004.7 143.8,1004.4 145.0,1004.8 146.3,1005.3 147.5,1005.5 148.7,1005.4 149.9,1005.5 151.1,1005.8 152.3,1005.8 153.6,1005.4 154.8,1004.9 156.1,1004.8 157.3,1005.2 158.6,1005.3 159.8,1005.1 161.0,1004.9 162.3,1005.1 163.5,1005.2 164.7,1004.7 165.9,1004.0 167.0,1003.5 168.2,1003.5 169.3,1003.7 170.4,1003.6 171.5,1003.4 172.6,1003.4 173.6,1003.7 174.6,1004.0 176.1,1004.0 177.6,1003.4 178.9,1003.2 180.2,1003.5 181.4,1003.6 182.6,1003.5 183.8,1003.5 184.9,1003.8 186.1,1004.4 187.2,1004.6 188.4,1004.3 189.6,1003.8 190.8,1003.6 192.1,1003.6 193.5,1003.3 194.6,1002.9 195.7,1002.7 196.8,1002.9 197.9,1003.3 199.1,1003.3 200.2,1002.9 201.4,1002.5 202.6,1002.4 203.8,1002.3 205.0,1002.1 206.2,1001.6 207.5,1001.5 208.7,1002.0 209.9,1002.5 211.1,1002.6 212.3,1002.5 213.5,1002.4 214.7,1002.6 215.9,1002.6 217.1,1002.2 218.3,1001.8 219.5,1001.8 220.7,1002.1 221.8,1002.4 223.0,1002.2 224.2,1001.8 225.4,1001.7 226.6,1001.7 227.8,1001.3 228.9,1000.5 230.1,999.8 231.3,999.6 232.5,999.7 233.7,999.7 234.8,999.4 236.0,999.2 237.2,999.3 238.4,999.5 239.6,999.3 240.7,998.8 241.9,998.4 243.1,998.5 244.3,998.9 245.5,999.2 246.6,999.2 247.8,999.4 249.0,1000.0 250.2,1000.5 251.4,1000.5 252.5,1000.1 253.7,999.8 254.9,999.9 256.1,1000.1 257.3,1000.1 258.5,999.9 259.6,999.9 260.8,1000.3 262.0,1000.6 263.2,1000.3 264.4,999.7 265.5,999.3 266.7,999.2 267.9,999.1 269.1,998.8 270.3,998.4 271.4,998.5 272.6,998.9 273.8,999.2 275.0,999.1 276.2,998.7 277.3,998.5 278.5,998.6 279.7,998.5 280.9,998.2 282.1,997.9 283.2,998.0 284.4,998.5 285.6,998.8 286.8,998.6 288.0,998.3 289.2,998.3 290.4,998.3 291.6,998.0 292.8,997.3 294.1,997.0 295.4,997.1 296.6,997.5 297.9,997.5 299.1,997.3 300.4,997.2 301.6,997.4 302.8,997.4 304.0,997.0 305.2,996.6 306.3,996.6 307.5,997.1 308.6,997.5 309.6,997.6 310.6,997.6 311.6,997.8 313.1,998.4 314.5,998.6 315.9,998.2 317.2,997.9 318.4,998.1 319.6,998.4 320.7,998.6 321.7,998.4 322.8,998.4 323.8,998.5 324.8,998.6 325.8,998.5 327.2,997.5 328.5,996.3 329.7,995.4 330.9,994.7 332.0,993.9 333.1,992.9 334.2,992.0 335.2,991.6 336.5,991.3 337.7,990.7 338.9,989.7 340.0,988.6 341.1,987.8 342.3,987.3 343.4,986.7 344.6,985.7 345.7,984.8 346.8,984.4 348.1,984.5 349.4,984.6 350.4,984.3 351.5,984.1 352.5,984.2 353.6,984.5 354.8,984.8 356.1,984.7 357.4,984.7 358.8,985.3 359.8,985.9 361.0,986.3 362.1,986.3 363.4,986.3 364.6,986.6 365.9,987.0 367.2,986.9 368.4,986.8 369.7,987.0 370.8,987.8 372.0,988.5 373.0,988.9 374.5,989.2 375.6,989.5 376.6,989.9 377.6,990.2 378.8,990.1 380.4,989.8 382.4,990.5 383.3,991.0 384.2,991.3 385.2,991.4 386.2,991.5 387.3,991.9 388.5,992.4 389.6,992.5 390.9,992.2 392.1,991.8 393.4,991.9 394.6,992.3 395.9,992.6 397.2,992.6 398.5,992.9 399.8,993.5 401.1,993.9 402.4,993.7 403.6,993.4 404.8,993.5 406.0,993.9 407.2,994.2 408.4,994.2 409.6,994.4 410.8,994.9 411.9,995.5 413.1,995.6 414.3,995.3 415.5,994.9 416.7,994.9 417.9,995.0 419.0,994.8 420.2,994.4 421.4,994.3 422.6,994.6 423.8,995.0 424.9,994.9 426.1,994.4 427.3,994.1 428.5,994.0 429.7,994.1 430.8,993.8 432.0,993.5 433.2,993.6 434.4,994.2 435.6,994.8 436.7,995.0 437.9,995.0 439.1,995.1 440.3,995.5 441.5,995.8 442.6,995.7 443.8,995.6 445.0,995.8 446.2,996.5 447.4,997.2 448.6,997.4 449.7,997.4 450.9,997.6 452.1,997.9 453.3,997.9 454.5,997.5 455.6,997.1 456.8,997.1 458.0,997.6 459.2,997.9 460.4,997.9 461.5,997.9 462.7,998.2 463.9,998.5 465.1,998.6 466.3,998.2 467.4,997.9 468.6,998.2 469.8,998.7 471.0,999.0 472.2,999.2 473.3,999.4 474.5,1000.0 475.7,1000.6 476.9,1000.6 478.1,1000.3 479.3,1000.0 480.4,1000.2 481.6,1000.4 482.8,1000.4 484.0,1000.2 485.2,1000.2 486.3,1000.6 487.5,1000.9 488.7,1000.6 489.9,1000.0 491.1,999.6 492.2,999.5 493.4,999.4 494.6,999.1 495.8,998.8 497.0,998.9 498.1,999.5 499.3,999.9 500.5,999.8 501.7,999.6 502.9,999.6 504.0,999.8 505.2,1000.0 506.4,999.9 507.6,999.9 508.8,1000.3 510.0,1001.1 511.1,1001.7 512.3,1001.8 513.5,1001.7 514.7,1001.8 515.9,1002.1 517.0,1002.1 518.2,1001.7 519.4,1001.4 520.6,1001.6 521.8,1002.1 522.9,1002.3 524.1,1002.2 525.3,1002.0 526.5,1002.1 527.7,1002.2 528.8,1002.0 530.0,1001.4 531.2,1001.1 532.4,1001.3 533.6,1001.8 534.7,1002.1 535.9,1002.0 537.1,1002.2 538.3,1002.6 539.5,1002.9 540.7,1002.8 541.8,1002.4 543.0,1002.2 544.2,1002.5 545.4,1002.9 546.6,1003.1 547.7,1003.0 548.9,1003.2 550.2,1003.7 551.5,1003.9 552.8,1003.4 554.2,1002.9 555.6,1002.9 556.9,1003.1 558.3,1003.0 559.7,1002.9 561.0,1003.3 562.3,1003.9 563.6,1004.0 564.8,1003.7 566.0,1003.5 567.1,1003.7 568.1,1004.0 569.1,1004.2 569.9,1004.2 570.7,1004.2 571.3,1004.8" fill="none" stroke="#1a1ad6" stroke-width="2.4" stroke-linejoin="round"/>
<polyline points="99.1,1001.8 99.7,1001.8 100.4,1001.9 101.1,1002.0 101.9,1002.1 102.8,1002.1 103.8,1001.9 104.7,1001.9 105.8,1002.0 106.9,1002.2 108.0,1002.2 109.1,1001.8 110.3,1001.4 111.6,1001.2 112.8,1001.2 114.1,1001.2 115.4,1001.0 116.8,1001.0 118.1,1001.5 119.5,1001.8 120.9,1001.6 122.3,1001.3 123.7,1001.4 125.1,1001.5 126.5,1001.4 127.9,1001.4 129.3,1001.8 130.6,1002.2 132.0,1002.3 133.4,1001.9 134.7,1001.8 136.0,1001.8 137.3,1001.6 138.5,1001.2 139.8,1001.0 141.0,1001.2 142.1,1001.5 143.2,1001.5 144.3,1001.2 145.3,1001.0 146.3,1001.0 147.8,1001.0 149.3,1000.7 150.8,1000.2 152.2,1000.4 153.6,1000.8 154.9,1001.0 156.2,1000.9 157.5,1000.9 158.7,1001.1 159.9,1001.2 161.1,1000.8 162.2,1000.5 163.3,1000.4 164.4,1000.6 165.5,1000.8 166.6,1000.7 167.6,1000.6 168.6,1000.5 169.7,1000.6 170.7,1000.7 171.7,1000.5 172.6,1000.1 173.6,999.7 174.6,999.4 176.1,999.4 177.6,999.5 178.9,999.3 180.2,999.3 181.4,999.6 182.6,999.9 183.8,999.8 184.9,999.5 186.1,999.3 187.2,999.5 188.4,999.7 189.6,999.8 190.8,999.7 192.1,999.9 193.5,1000.4 194.6,1000.6 195.7,1000.5 196.8,1000.2 197.9,1000.0 199.1,1000.0 200.2,1000.0 201.4,999.7 202.6,999.4 203.8,999.4 205.0,999.7 206.2,999.8 207.5,999.5 208.7,999.1 209.9,998.9 211.1,998.8 212.3,998.6 213.5,998.3 214.7,998.0 215.9,998.2 217.1,998.6 218.3,998.8 219.5,998.6 220.7,998.5 221.8,998.5 223.0,998.6 224.2,998.4 225.4,998.1 226.6,997.9 227.8,998.1 228.9,998.4 230.1,998.5 231.3,998.3 232.5,998.1 233.7,998.2 234.8,998.1 236.0,997.7 237.2,997.1 238.4,996.8 239.6,996.9 240.7,997.0 241.9,996.9 243.1,996.8 244.3,996.7 245.5,996.9 246.6,997.0 247.8,996.7 249.0,996.3 250.2,996.2 251.4,996.4 252.5,996.7 253.7,996.7 254.9,996.7 256.1,997.0 257.3,997.4 258.5,997.5 259.6,997.3 260.8,996.9 262.0,996.8 263.2,996.9 264.4,996.9 265.5,996.7 266.7,996.5 267.9,996.6 269.1,996.8 270.3,996.7 271.4,996.2 272.6,995.7 273.8,995.4 275.0,995.3 276.2,995.0 277.3,994.6 278.5,994.5 279.7,994.6 280.9,994.9 282.1,994.9 283.2,994.6 284.4,994.4 285.6,994.4 286.8,994.4 288.0,994.3 289.2,994.1 290.4,994.1 291.6,994.5 292.8,994.9 294.1,995.0 295.4,994.8 296.6,994.8 297.9,994.8 299.1,994.7 300.4,994.3 301.6,994.0 302.8,994.2 304.0,994.5 305.2,994.5 306.3,994.4 307.5,994.2 308.6,994.3 309.6,994.4 310.6,994.2 311.6,993.9 313.1,993.5 314.5,993.8 315.9,994.2 317.2,994.3 318.4,994.4 319.6,994.6 320.7,994.9 321.7,995.0 322.8,994.8 323.8,994.4 324.8,994.0 325.8,993.9 327.2,993.6 328.5,993.0 329.7,992.1 330.9,991.3 332.0,990.7 333.1,989.9 334.2,988.9 335.2,987.7 336.5,986.4 337.7,985.6 338.9,984.9 340.0,984.0 341.1,983.1 342.3,982.4 343.4,981.9 344.6,981.3 345.7,980.4 346.8,979.4 348.1,978.6 349.4,978.4 350.4,978.6 351.5,978.9 352.5,979.2 353.6,979.7 354.8,980.7 356.1,981.7 357.4,982.4 358.8,982.6 359.8,982.8 361.0,983.1 362.1,983.4 363.4,983.5 364.6,983.5 365.9,983.8 367.2,984.5 368.4,984.9 369.7,985.0 370.8,984.9 372.0,985.1 373.0,985.3 374.5,985.3 375.6,985.0 376.6,984.9 377.6,985.0 378.8,985.5 380.4,985.9 382.4,986.1 383.3,986.3 384.2,986.6 385.2,986.9 386.2,986.9 387.3,986.8 388.5,986.8 389.6,987.2 390.9,987.8 392.1,988.1 393.4,988.2 394.6,988.5 395.9,988.9 397.2,989.1 398.5,988.8 399.8,988.5 401.1,988.6 402.4,988.9 403.6,989.1 404.8,989.0 406.0,989.2 407.2,989.5 408.4,989.8 409.6,989.7 410.8,989.4 411.9,989.3 413.1,989.5 414.3,989.8 415.5,989.9 416.7,990.0 417.9,990.3 419.0,990.8 420.2,991.2 421.4,991.1 422.6,990.9 423.8,990.9 424.9,991.1 426.1,991.2 427.3,991.1 428.5,991.1 429.7,991.3 430.8,991.7 432.0,992.0 433.2,991.8 434.4,991.5 435.6,991.4 436.7,991.5 437.9,991.5 439.1,991.2 440.3,991.1 441.5,991.4 442.6,991.9 443.8,992.2 445.0,992.2 446.2,992.2 447.4,992.4 448.6,992.6 449.7,992.6 450.9,992.5 452.1,992.6 453.3,993.0 454.5,993.6 455.6,993.9 456.8,993.9 458.0,994.0 459.2,994.3 460.4,994.5 461.5,994.3 462.7,994.0 463.9,993.9 465.1,994.2 466.3,994.6 467.4,994.7 468.6,994.6 469.8,994.7 471.0,995.0 472.2,995.1 473.3,994.9 474.5,994.6 475.7,994.6 476.9,994.9 478.1,995.2 479.3,995.3 480.4,995.4 481.6,995.7 482.8,996.2 484.0,996.4 485.2,996.2 486.3,996.0 487.5,996.0 488.7,996.3 489.9,996.4 491.1,996.4 492.2,996.4 493.4,996.7 494.6,997.0 495.8,997.1 497.0,996.8 498.1,996.4 499.3,996.4 500.5,996.5 501.7,996.4 502.9,996.2 504.0,996.2 505.2,996.6 506.4,997.0 507.6,997.2 508.8,997.1 510.0,997.0 511.1,997.1 512.3,997.4 513.5,997.4 514.7,997.3 515.9,997.5 517.0,998.0 518.2,998.6 519.4,998.8 520.6,998.8 521.8,998.8 522.9,999.0 524.1,999.1 525.3,998.8 526.5,998.5 527.7,998.5 528.8,998.8 530.0,999.0 531.2,999.0 532.4,998.7 533.6,998.6 534.7,998.7 535.9,998.6 537.1,998.2 538.3,997.8 539.5,997.7 540.7,998.0 541.8,998.3 543.0,998.4 544.2,998.4 545.4,998.6 546.6,998.9 547.7,999.0 548.9,998.8 550.2,998.7 551.5,998.9 552.8,999.4 554.2,999.7 555.6,999.7 556.9,1000.1 558.3,1000.5 559.7,1000.6 561.0,1000.2 562.3,1000.0 563.6,1000.2 564.8,1000.4 566.0,1000.4 567.1,1000.4 568.1,1000.5 569.1,1000.9 569.9,1001.2 570.7,1001.3 571.3,1001.2" fill="none" stroke="#0f4f0f" stroke-width="2.4" stroke-linejoin="round"/>
<polyline points="99.1,936.7 99.7,936.3 100.5,936.0 101.4,935.9 102.4,936.1 103.5,936.3 104.7,936.3 106.1,936.1 107.6,936.3 109.3,936.7 111.2,936.1 113.2,935.6 114.1,935.7 115.0,935.9 116.0,936.0 117.0,935.9 118.0,935.9 119.1,936.3 120.3,936.8 121.4,937.0 122.6,936.6 123.8,936.2 125.1,936.1 126.3,936.2 127.6,936.0 128.9,935.7 130.2,935.6 131.5,936.0 132.7,936.2 134.0,935.7 135.3,935.1 136.6,934.8 137.9,934.7 139.2,934.3 140.4,933.8 141.6,933.6 142.8,934.0 144.0,934.4 145.2,934.4 146.3,934.1 147.6,933.9 148.8,934.0 150.1,934.0 151.4,933.5 152.7,933.2 153.9,933.5 155.2,934.0 156.4,934.2 157.7,934.0 158.9,933.8 160.1,933.8 161.3,933.8 162.5,933.2 163.7,932.5 164.9,932.2 166.0,932.3 167.2,932.4 168.3,932.3 169.4,932.0 170.5,931.8 171.6,931.8 172.6,931.8 173.6,931.5 174.6,931.0 176.1,930.3 177.6,930.4 178.9,930.8 180.2,930.7 181.4,930.7 182.6,931.0 183.8,931.4 184.9,931.5 186.1,931.1 187.2,930.6 188.4,930.5 189.6,930.7 190.8,930.8 192.1,930.6 193.5,930.5 194.6,930.8 195.7,931.1 196.8,930.9 197.9,930.3 199.1,929.7 200.2,929.4 201.4,929.4 202.6,929.1 203.8,928.7 205.0,928.5 206.2,928.8 207.5,929.2 208.7,929.1 209.9,928.6 211.1,928.3 212.3,928.3 213.5,928.3 214.7,928.0 215.9,927.8 217.1,927.9 218.3,928.5 219.5,928.8 220.7,928.7 221.8,928.4 223.0,928.3 224.2,928.3 225.4,928.1 226.6,927.5 227.8,927.0 228.9,927.0 230.1,927.2 231.3,927.3 232.5,927.0 233.7,926.5 234.8,926.3 236.0,926.2 237.2,925.8 238.4,925.1 239.6,924.6 240.7,924.5 241.9,924.8 243.1,924.9 244.3,924.7 245.5,924.6 246.6,924.8 247.8,924.9 249.0,924.6 250.2,924.0 251.4,923.6 252.5,923.7 253.7,924.0 254.9,924.0 256.1,923.7 257.3,923.7 258.5,923.8 259.6,923.8 260.8,923.4 262.0,922.5 263.2,922.0 264.4,921.8 265.6,921.7 266.8,921.4 268.0,921.0 269.3,920.9 270.6,921.2 271.9,921.0 273.2,920.4 274.5,919.7 275.8,919.6 277.0,919.6 278.3,919.4 279.5,919.1 280.8,919.3 281.9,919.8 283.1,920.0 284.2,919.8 285.2,919.4 286.2,919.1 287.1,919.0 288.0,918.9 290.1,918.2 291.8,917.5 293.1,917.5 294.3,917.5 295.3,917.1 296.3,916.5 297.4,915.9 298.8,915.5 300.0,915.3 301.3,914.8 302.4,914.2 303.5,914.1 304.5,914.4 306.2,915.0 307.7,915.1 309.2,915.9 310.4,917.5 311.6,919.5 312.8,921.7 313.9,924.2 315.2,928.1 316.4,933.3 317.6,938.7 318.7,943.1 320.4,949.9 322.0,954.8 323.2,956.5 324.5,956.3 325.8,954.0 327.0,950.4 328.3,945.3 329.5,937.2 331.3,916.6 332.8,893.2 334.1,872.3 335.2,852.5 336.3,834.8 337.6,818.7 339.1,803.7 340.9,791.6 342.1,785.7 343.5,781.4 344.6,778.4 345.9,775.5 347.0,774.6 348.2,774.6 349.4,778.6 350.4,791.3 351.3,806.1 351.8,816.3 352.7,825.4 353.7,831.5 355.0,837.7 356.5,844.7 357.6,850.5 358.8,856.3 360.1,861.4 361.2,866.1 362.9,874.9 364.5,882.2 365.7,885.9 366.9,889.3 368.3,892.8 369.3,895.3 370.3,897.3 371.4,898.6 373.0,899.7 374.0,900.4 375.2,900.9 376.5,901.1 377.8,901.1 379.2,901.7 380.8,902.8 382.4,903.5 383.4,903.7 384.5,903.9 385.6,904.4 386.8,904.7 388.0,904.7 389.2,904.4 390.5,904.5 391.7,905.1 392.9,905.7 394.2,905.9 395.4,906.0 396.6,906.3 397.8,906.8 398.9,907.0 400.0,906.9 401.1,906.8 402.3,907.0 403.4,907.7 404.5,908.5 405.7,908.9 406.9,909.3 408.1,910.0 409.4,910.9 410.8,911.4 411.9,911.4 413.0,911.3 414.2,911.7 415.3,912.4 416.5,912.9 417.8,913.1 419.0,913.5 420.3,914.2 421.5,914.8 422.8,914.9 424.2,914.5 425.5,914.4 426.9,914.7 428.3,914.8 429.7,914.7 430.7,914.8 431.8,915.3 432.9,915.8 434.1,915.9 435.2,915.6 436.4,915.3 437.6,915.4 438.8,915.7 440.0,915.7 441.2,915.6 442.4,915.8 443.6,916.5 444.8,917.2 446.0,917.5 447.3,917.4 448.5,917.5 449.7,917.9 450.9,918.1 452.1,917.9 453.3,917.8 454.5,918.2 455.6,918.9 456.8,919.5 458.0,919.6 459.2,919.6 460.4,919.9 461.5,920.2 462.7,920.3 463.9,920.1 465.1,920.0 466.3,920.4 467.4,921.2 468.6,921.7 469.8,922.0 471.0,922.2 472.2,922.8 473.3,923.3 474.5,923.5 475.7,923.3 476.9,923.3 478.1,923.7 479.3,924.3 480.4,924.7 481.6,924.8 482.8,925.0 484.0,925.5 485.2,925.8 486.3,925.6 487.5,925.1 488.7,924.8 489.9,924.8 491.1,925.0 492.2,924.9 493.4,924.7 494.6,924.8 495.8,925.2 497.0,925.4 498.1,925.1 499.3,924.6 500.5,924.4 501.7,924.6 502.9,924.9 504.0,924.9 505.2,924.9 506.4,925.4 507.6,926.2 508.8,926.7 510.0,926.8 511.1,926.6 512.3,926.8 513.5,927.2 514.7,927.4 515.9,927.3 517.0,927.4 518.2,927.8 519.4,928.5 520.6,928.9 521.8,928.8 522.9,928.6 524.1,928.6 525.3,928.7 526.5,928.5 527.7,928.1 528.8,927.9 530.0,928.3 531.2,928.8 532.4,929.1 533.6,929.0 534.7,929.0 535.9,929.2 537.1,929.5 538.3,929.4 539.5,929.1 540.7,929.1 541.8,929.7 543.0,930.4 544.2,930.8 545.4,930.9 546.6,931.1 547.7,931.6 548.9,931.9 550.2,931.7 551.5,931.3 552.8,931.3 554.2,931.8 555.6,932.1 556.9,932.1 558.3,932.2 559.7,932.7 561.0,932.7 562.3,932.2 563.6,931.9 564.8,932.0 566.0,932.4 567.1,932.6 568.1,932.6 569.1,932.8 569.9,933.1 570.7,933.5 571.3,933.8" fill="none" stroke="#f21212" stroke-width="2.4" stroke-linejoin="round"/>
<line x1="335.2" y1="737.9" x2="335.2" y2="1037.8" stroke="#111" stroke-width="1.8" stroke-dasharray="6,4"/>
<rect x="75.1" y="737.9" width="519.8" height="299.9" fill="none" stroke="#444" stroke-width="1"/>
<line x1="72.1" y1="1010.8" x2="75.1" y2="1010.8" stroke="#444" stroke-width="1"/>
<text x="70.6" y="1014.0" font-size="9" font-family="'Liberation Sans', Arial, sans-serif" text-anchor="end" fill="#4d4d4d" >0.25</text>
<line x1="72.1" y1="942.5" x2="75.1" y2="942.5" stroke="#444" stroke-width="1"/>
<text x="70.6" y="945.7" font-size="9" font-family="'Liberation Sans', Arial, sans-serif" text-anchor="end" fill="#4d4d4d" >0.50</text>
<line x1="72.1" y1="874.2" x2="75.1" y2="874.2" stroke="#444" stroke-width="1"/>
<text x="70.6" y="877.4" font-size="9" font-family="'Liberation Sans', Arial, sans-serif" text-anchor="end" fill="#4d4d4d" >0.75</text>
<line x1="72.1" y1="805.9" x2="75.1" y2="805.9" stroke="#444" stroke-width="1"/>
<text x="70.6" y="809.1" font-size="9" font-family="'Liberation Sans', Arial, sans-serif" text-anchor="end" fill="#4d4d4d" >1.00</text>
<line x1="72.1" y1="737.6" x2="75.1" y2="737.6" stroke="#444" stroke-width="1"/>
<text x="70.6" y="740.8" font-size="9" font-family="'Liberation Sans', Arial, sans-serif" text-anchor="end" fill="#4d4d4d" >1.25</text>
<line x1="99.1" y1="1037.8" x2="99.1" y2="1040.8" stroke="#444" stroke-width="1"/>
<text x="99.1" y="1050.6" font-size="9" font-family="'Liberation Sans', Arial, sans-serif" text-anchor="middle" fill="#4d4d4d" >−5.0</text>
<line x1="217.1" y1="1037.8" x2="217.1" y2="1040.8" stroke="#444" stroke-width="1"/>
<text x="217.1" y="1050.6" font-size="9" font-family="'Liberation Sans', Arial, sans-serif" text-anchor="middle" fill="#4d4d4d" >−2.5</text>
<line x1="335.2" y1="1037.8" x2="335.2" y2="1040.8" stroke="#444" stroke-width="1"/>
<text x="335.2" y="1050.6" font-size="9" font-family="'Liberation Sans', Arial, sans-serif" text-anchor="middle" fill="#4d4d4d" >0.0</text>
<line x1="453.3" y1="1037.8" x2="453.3" y2="1040.8" stroke="#444" stroke-width="1"/>
<text x="453.3" y="1050.6" font-size="9" font-family="'Liberation Sans', Arial, sans-serif" text-anchor="middle" fill="#4d4d4d" >2.5</text>
<line x1="571.3" y1="1037.8" x2="571.3" y2="1040.8" stroke="#444" stroke-width="1"/>
<text x="571.3" y="1050.6" font-size="9" font-family="'Liberation Sans', Arial, sans-serif" text-anchor="middle" fill="#4d4d4d" >5.0</text>
<text x="333.2" y="1080.7" font-size="19.3" font-family="'Liberation Sans', Arial, sans-serif" text-anchor="middle" >Relative Distance to TSS (Kb)</text>
<text x="0.0" y="0.0" font-size="19.3" font-family="'Liberation Sans', Arial, sans-serif" text-anchor="middle" transform="translate(35.5,893) rotate(-90)">Average Profile</text>
<text x="474.8" y="767.7" font-size="9.6" font-family="'DejaVu Sans', 'Liberation Sans', sans-serif" >Condition</text>
<line x1="476.3" y1="783.4" x2="490.1" y2="783.4" stroke="#f21212" stroke-width="2"/>
<text x="494.2" y="787.3" font-size="10.1" font-family="'DejaVu Sans', 'Liberation Sans', sans-serif" >GIC</text>
<line x1="476.3" y1="800.5" x2="490.1" y2="800.5" stroke="#0f4f0f" stroke-width="2"/>
<text x="494.2" y="804.4" font-size="10.1" font-family="'DejaVu Sans', 'Liberation Sans', sans-serif" >NSC</text>
<line x1="476.3" y1="817.8" x2="490.1" y2="817.8" stroke="#1a1ad6" stroke-width="2"/>
<text x="494.2" y="821.7" font-size="10.1" font-family="'DejaVu Sans', 'Liberation Sans', sans-serif" >NSC Bmi1over</text>
<rect x="674.1" y="83.3" width="70.3" height="529.5" fill="url(#g1)"/>
<rect x="755.5" y="83.3" width="69.1" height="529.5" fill="url(#g2)"/>
<rect x="743.7" y="83.3" width="5.0" height="529.5" fill="url(#g3)"/>
<rect x="748.0" y="83.3" width="2.3" height="529.5" fill="url(#g4)"/>
<rect x="749.6" y="83.3" width="3.7" height="529.5" fill="url(#g5)"/>
<rect x="752.6" y="83.3" width="3.6" height="529.5" fill="url(#g6)"/>
<rect x="835.8" y="83.3" width="149.8" height="529.5" fill="url(#g7)"/>
<rect x="900.3" y="83.3" width="85.3" height="529.5" fill="url(#g8)" mask="url(#m9)"/>
<rect x="997.5" y="83.3" width="149.9" height="529.5" fill="url(#g10)"/>
<rect x="1062.1" y="83.3" width="85.3" height="529.5" fill="url(#g11)" mask="url(#m12)"/>
<rect x="674.1" y="619.0" width="150.5" height="432.0" fill="url(#g13)"/>
<rect x="835.8" y="619.0" width="149.8" height="432.0" fill="url(#g14)"/>
<rect x="908.3" y="619.0" width="77.3" height="432.0" fill="url(#g15)" mask="url(#m16)"/>
<rect x="902.3" y="619.0" width="17.0" height="432.0" fill="url(#g17)" mask="url(#m18)"/>
<rect x="997.5" y="619.0" width="70.3" height="432.0" fill="url(#g19)"/>
<rect x="1067.1" y="619.0" width="5.2" height="432.0" fill="url(#g20)"/>
<rect x="1071.6" y="619.0" width="6.2" height="432.0" fill="url(#g21)"/>
<rect x="1077.1" y="619.0" width="70.3" height="432.0" fill="url(#g22)"/>
<rect x="674.6" y="84.3" width="148.8" height="527.5" fill="#888" filter="url(#streak)" style="mix-blend-mode:soft-light" opacity="0.55"/>
<rect x="674.6" y="620.0" width="148.8" height="430.0" fill="#888" filter="url(#streak)" style="mix-blend-mode:soft-light" opacity="0.55"/>
<rect x="836.3" y="84.3" width="148.1" height="527.5" fill="#888" filter="url(#streak)" style="mix-blend-mode:soft-light" opacity="0.55"/>
<rect x="836.3" y="620.0" width="148.1" height="430.0" fill="#888" filter="url(#streak)" style="mix-blend-mode:soft-light" opacity="0.55"/>
<rect x="998.0" y="84.3" width="148.2" height="527.5" fill="#888" filter="url(#streak)" style="mix-blend-mode:soft-light" opacity="0.55"/>
<rect x="998.0" y="620.0" width="148.2" height="430.0" fill="#888" filter="url(#streak)" style="mix-blend-mode:soft-light" opacity="0.55"/>
<line x1="675.0" y1="90.5" x2="746.6" y2="90.5" stroke="#3a3a5a" stroke-width="1" opacity="0.75"/>
<line x1="767.6" y1="106.7" x2="823.1" y2="106.7" stroke="#3a3a5a" stroke-width="1" opacity="0.75"/>
<line x1="803.6" y1="109.5" x2="823.1" y2="109.5" stroke="#3a3a5a" stroke-width="1" opacity="0.75"/>
<line x1="675.0" y1="150.3" x2="730.6" y2="150.3" stroke="#3a3a5a" stroke-width="1" opacity="0.75"/>
<line x1="814.6" y1="182.1" x2="823.1" y2="182.1" stroke="#3a3a5a" stroke-width="1" opacity="0.75"/>
<line x1="675.0" y1="214.7" x2="747.6" y2="214.7" stroke="#3a3a5a" stroke-width="1" opacity="0.75"/>
<line x1="675.0" y1="227.8" x2="710.6" y2="227.8" stroke="#3a3a5a" stroke-width="1" opacity="0.75"/>
<line x1="770.6" y1="396.2" x2="823.1" y2="396.2" stroke="#3a3a5a" stroke-width="1" opacity="0.75"/>
<line x1="757.6" y1="442.2" x2="823.1" y2="442.2" stroke="#3a3a5a" stroke-width="1" opacity="0.75"/>
<line x1="675.0" y1="462.9" x2="687.6" y2="462.9" stroke="#3a3a5a" stroke-width="1" opacity="0.75"/>
<line x1="675.0" y1="468.5" x2="731.6" y2="468.5" stroke="#3a3a5a" stroke-width="1" opacity="0.75"/>
<line x1="767.6" y1="636.3" x2="823.1" y2="636.3" stroke="#3a3a5a" stroke-width="1" opacity="0.75"/>
<line x1="755.6" y1="642.8" x2="823.1" y2="642.8" stroke="#3a3a5a" stroke-width="1" opacity="0.75"/>
<line x1="675.0" y1="732.1" x2="727.2" y2="732.1" stroke="#3a3a5a" stroke-width="1" opacity="0.75"/>
<line x1="813.6" y1="787.5" x2="823.1" y2="787.5" stroke="#3a3a5a" stroke-width="1" opacity="0.75"/>
<line x1="780.6" y1="805.6" x2="823.1" y2="805.6" stroke="#3a3a5a" stroke-width="1" opacity="0.75"/>
<line x1="675.0" y1="825.0" x2="748.6" y2="825.0" stroke="#3a3a5a" stroke-width="1" opacity="0.75"/>
<line x1="675.0" y1="843.4" x2="709.6" y2="843.4" stroke="#3a3a5a" stroke-width="1" opacity="0.75"/>
<line x1="675.0" y1="857.4" x2="728.3" y2="857.4" stroke="#3a3a5a" stroke-width="1" opacity="0.75"/>
<line x1="761.6" y1="965.0" x2="823.1" y2="965.0" stroke="#3a3a5a" stroke-width="1" opacity="0.75"/>
<line x1="767.6" y1="973.2" x2="823.1" y2="973.2" stroke="#3a3a5a" stroke-width="1" opacity="0.75"/>
<line x1="675.0" y1="989.4" x2="740.6" y2="989.4" stroke="#3a3a5a" stroke-width="1" opacity="0.75"/>
<line x1="675.0" y1="1020.7" x2="728.3" y2="1020.7" stroke="#3a3a5a" stroke-width="1" opacity="0.75"/>
<line x1="836.7" y1="90.5" x2="908.3" y2="90.5" stroke="#3a3a5a" stroke-width="1" opacity="0.75"/>
<line x1="929.3" y1="106.7" x2="984.8" y2="106.7" stroke="#3a3a5a" stroke-width="1" opacity="0.75"/>
<line x1="965.3" y1="109.5" x2="984.8" y2="109.5" stroke="#3a3a5a" stroke-width="1" opacity="0.75"/>
<line x1="836.7" y1="150.3" x2="892.3" y2="150.3" stroke="#3a3a5a" stroke-width="1" opacity="0.75"/>
<line x1="976.3" y1="182.1" x2="984.8" y2="182.1" stroke="#3a3a5a" stroke-width="1" opacity="0.75"/>
<line x1="836.7" y1="214.7" x2="909.3" y2="214.7" stroke="#3a3a5a" stroke-width="1" opacity="0.75"/>
<line x1="836.7" y1="227.8" x2="872.3" y2="227.8" stroke="#3a3a5a" stroke-width="1" opacity="0.75"/>
<line x1="932.3" y1="396.2" x2="984.8" y2="396.2" stroke="#3a3a5a" stroke-width="1" opacity="0.75"/>
<line x1="919.3" y1="442.2" x2="984.8" y2="442.2" stroke="#3a3a5a" stroke-width="1" opacity="0.75"/>
<line x1="836.7" y1="462.9" x2="849.3" y2="462.9" stroke="#3a3a5a" stroke-width="1" opacity="0.75"/>
<line x1="836.7" y1="468.5" x2="893.3" y2="468.5" stroke="#3a3a5a" stroke-width="1" opacity="0.75"/>
<line x1="929.3" y1="636.3" x2="984.8" y2="636.3" stroke="#3a3a5a" stroke-width="1" opacity="0.75"/>
<line x1="917.3" y1="642.8" x2="984.8" y2="642.8" stroke="#3a3a5a" stroke-width="1" opacity="0.75"/>
<line x1="836.7" y1="732.1" x2="888.9" y2="732.1" stroke="#3a3a5a" stroke-width="1" opacity="0.75"/>
<line x1="975.3" y1="787.5" x2="984.8" y2="787.5" stroke="#3a3a5a" stroke-width="1" opacity="0.75"/>
<line x1="942.3" y1="805.6" x2="984.8" y2="805.6" stroke="#3a3a5a" stroke-width="1" opacity="0.75"/>
<line x1="836.7" y1="825.0" x2="910.3" y2="825.0" stroke="#3a3a5a" stroke-width="1" opacity="0.75"/>
<line x1="836.7" y1="843.4" x2="871.3" y2="843.4" stroke="#3a3a5a" stroke-width="1" opacity="0.75"/>
<line x1="836.7" y1="857.4" x2="890.0" y2="857.4" stroke="#3a3a5a" stroke-width="1" opacity="0.75"/>
<line x1="923.3" y1="965.0" x2="984.8" y2="965.0" stroke="#3a3a5a" stroke-width="1" opacity="0.75"/>
<line x1="929.3" y1="973.2" x2="984.8" y2="973.2" stroke="#3a3a5a" stroke-width="1" opacity="0.75"/>
<line x1="836.7" y1="989.4" x2="902.3" y2="989.4" stroke="#3a3a5a" stroke-width="1" opacity="0.75"/>
<line x1="836.7" y1="1020.7" x2="890.0" y2="1020.7" stroke="#3a3a5a" stroke-width="1" opacity="0.75"/>
<line x1="998.4" y1="90.5" x2="1070.0" y2="90.5" stroke="#3a3a5a" stroke-width="1" opacity="0.75"/>
<line x1="1091.0" y1="106.7" x2="1146.5" y2="106.7" stroke="#3a3a5a" stroke-width="1" opacity="0.75"/>
<line x1="1127.0" y1="109.5" x2="1146.5" y2="109.5" stroke="#3a3a5a" stroke-width="1" opacity="0.75"/>
<line x1="998.4" y1="150.3" x2="1054.0" y2="150.3" stroke="#3a3a5a" stroke-width="1" opacity="0.75"/>
<line x1="1138.0" y1="182.1" x2="1146.5" y2="182.1" stroke="#3a3a5a" stroke-width="1" opacity="0.75"/>
<line x1="998.4" y1="214.7" x2="1071.0" y2="214.7" stroke="#3a3a5a" stroke-width="1" opacity="0.75"/>
<line x1="998.4" y1="227.8" x2="1034.0" y2="227.8" stroke="#3a3a5a" stroke-width="1" opacity="0.75"/>
<line x1="1094.0" y1="396.2" x2="1146.5" y2="396.2" stroke="#3a3a5a" stroke-width="1" opacity="0.75"/>
<line x1="1081.0" y1="442.2" x2="1146.5" y2="442.2" stroke="#3a3a5a" stroke-width="1" opacity="0.75"/>
<line x1="998.4" y1="462.9" x2="1011.0" y2="462.9" stroke="#3a3a5a" stroke-width="1" opacity="0.75"/>
<line x1="998.4" y1="468.5" x2="1055.0" y2="468.5" stroke="#3a3a5a" stroke-width="1" opacity="0.75"/>
<line x1="1091.0" y1="636.3" x2="1146.5" y2="636.3" stroke="#3a3a5a" stroke-width="1" opacity="0.75"/>
<line x1="1079.0" y1="642.8" x2="1146.5" y2="642.8" stroke="#3a3a5a" stroke-width="1" opacity="0.75"/>
<line x1="998.4" y1="732.1" x2="1050.6" y2="732.1" stroke="#3a3a5a" stroke-width="1" opacity="0.75"/>
<line x1="1137.0" y1="787.5" x2="1146.5" y2="787.5" stroke="#3a3a5a" stroke-width="1" opacity="0.75"/>
<line x1="1104.0" y1="805.6" x2="1146.5" y2="805.6" stroke="#3a3a5a" stroke-width="1" opacity="0.75"/>
<line x1="998.4" y1="825.0" x2="1072.0" y2="825.0" stroke="#3a3a5a" stroke-width="1" opacity="0.75"/>
<line x1="998.4" y1="843.4" x2="1033.0" y2="843.4" stroke="#3a3a5a" stroke-width="1" opacity="0.75"/>
<line x1="998.4" y1="857.4" x2="1051.7" y2="857.4" stroke="#3a3a5a" stroke-width="1" opacity="0.75"/>
<line x1="1085.0" y1="965.0" x2="1146.5" y2="965.0" stroke="#3a3a5a" stroke-width="1" opacity="0.75"/>
<line x1="1091.0" y1="973.2" x2="1146.5" y2="973.2" stroke="#3a3a5a" stroke-width="1" opacity="0.75"/>
<line x1="998.4" y1="989.4" x2="1064.0" y2="989.4" stroke="#3a3a5a" stroke-width="1" opacity="0.75"/>
<line x1="998.4" y1="1020.7" x2="1051.7" y2="1020.7" stroke="#3a3a5a" stroke-width="1" opacity="0.75"/>
<rect x="674.2" y="83.9" width="149.6" height="528.3" fill="none" stroke="#000" stroke-width="1.2"/>
<rect x="674.2" y="619.6" width="149.6" height="430.8" fill="none" stroke="#000" stroke-width="1.2"/>
<rect x="835.9" y="83.9" width="148.9" height="528.3" fill="none" stroke="#000" stroke-width="1.2"/>
<rect x="835.9" y="619.6" width="148.9" height="430.8" fill="none" stroke="#000" stroke-width="1.2"/>
<rect x="997.6" y="83.9" width="149.0" height="528.3" fill="none" stroke="#000" stroke-width="1.2"/>
<rect x="997.6" y="619.6" width="149.0" height="430.8" fill="none" stroke="#000" stroke-width="1.2"/>
<rect x="1159.0" y="83.7" width="14.2" height="966.7" fill="url(#cbar)" stroke="#000" stroke-width="1.2"/>
<line x1="1173.8" y1="1051.0" x2="1178.8" y2="1051.0" stroke="#000" stroke-width="1"/>
<text x="1184.3" y="1055.3" font-size="11.6" font-family="'DejaVu Sans', 'Liberation Sans', sans-serif" >0.0</text>
<line x1="1173.8" y1="940.1" x2="1178.8" y2="940.1" stroke="#000" stroke-width="1"/>
<text x="1184.3" y="944.4" font-size="11.6" font-family="'DejaVu Sans', 'Liberation Sans', sans-serif" >0.2</text>
<line x1="1173.8" y1="829.3" x2="1178.8" y2="829.3" stroke="#000" stroke-width="1"/>
<text x="1184.3" y="833.6" font-size="11.6" font-family="'DejaVu Sans', 'Liberation Sans', sans-serif" >0.4</text>
<line x1="1173.8" y1="718.4" x2="1178.8" y2="718.4" stroke="#000" stroke-width="1"/>
<text x="1184.3" y="722.7" font-size="11.6" font-family="'DejaVu Sans', 'Liberation Sans', sans-serif" >0.6</text>
<line x1="1173.8" y1="607.6" x2="1178.8" y2="607.6" stroke="#000" stroke-width="1"/>
<text x="1184.3" y="611.9" font-size="11.6" font-family="'DejaVu Sans', 'Liberation Sans', sans-serif" >0.8</text>
<line x1="1173.8" y1="496.8" x2="1178.8" y2="496.8" stroke="#000" stroke-width="1"/>
<text x="1184.3" y="501.1" font-size="11.6" font-family="'DejaVu Sans', 'Liberation Sans', sans-serif" >1.0</text>
<line x1="1173.8" y1="385.9" x2="1178.8" y2="385.9" stroke="#000" stroke-width="1"/>
<text x="1184.3" y="390.2" font-size="11.6" font-family="'DejaVu Sans', 'Liberation Sans', sans-serif" >1.2</text>
<line x1="1173.8" y1="275.0" x2="1178.8" y2="275.0" stroke="#000" stroke-width="1"/>
<text x="1184.3" y="279.3" font-size="11.6" font-family="'DejaVu Sans', 'Liberation Sans', sans-serif" >1.4</text>
<line x1="1173.8" y1="164.2" x2="1178.8" y2="164.2" stroke="#000" stroke-width="1"/>
<text x="1184.3" y="168.5" font-size="11.6" font-family="'DejaVu Sans', 'Liberation Sans', sans-serif" >1.6</text>
<line x1="674.2" y1="1051.0" x2="674.2" y2="1055.0" stroke="#000" stroke-width="1.2"/>
<line x1="749.0" y1="1051.0" x2="749.0" y2="1055.0" stroke="#000" stroke-width="1.2"/>
<line x1="823.8" y1="1051.0" x2="823.8" y2="1055.0" stroke="#000" stroke-width="1.2"/>
<text x="674.1" y="1071.0" font-size="11.6" font-family="'DejaVu Sans', 'Liberation Sans', sans-serif" >-5.0</text>
<text x="749.0" y="1071.0" font-size="11.6" font-family="'DejaVu Sans', 'Liberation Sans', sans-serif" text-anchor="middle" >TSS</text>
<text x="824.4" y="1071.0" font-size="11.6" font-family="'DejaVu Sans', 'Liberation Sans', sans-serif" text-anchor="end" >5.0Kb</text>
<text x="749.0" y="1089.0" font-size="11.8" font-family="'DejaVu Sans', 'Liberation Sans', sans-serif" text-anchor="middle" >gene distance (bp)</text>
<line x1="835.9" y1="1051.0" x2="835.9" y2="1055.0" stroke="#000" stroke-width="1.2"/>
<line x1="910.3" y1="1051.0" x2="910.3" y2="1055.0" stroke="#000" stroke-width="1.2"/>
<line x1="984.8" y1="1051.0" x2="984.8" y2="1055.0" stroke="#000" stroke-width="1.2"/>
<text x="835.8" y="1071.0" font-size="11.6" font-family="'DejaVu Sans', 'Liberation Sans', sans-serif" >-5.0</text>
<text x="910.3" y="1071.0" font-size="11.6" font-family="'DejaVu Sans', 'Liberation Sans', sans-serif" text-anchor="middle" >TSS</text>
<text x="985.4" y="1071.0" font-size="11.6" font-family="'DejaVu Sans', 'Liberation Sans', sans-serif" text-anchor="end" >5.0Kb</text>
<text x="910.3" y="1089.0" font-size="11.8" font-family="'DejaVu Sans', 'Liberation Sans', sans-serif" text-anchor="middle" >gene distance (bp)</text>
<line x1="997.6" y1="1051.0" x2="997.6" y2="1055.0" stroke="#000" stroke-width="1.2"/>
<line x1="1072.1" y1="1051.0" x2="1072.1" y2="1055.0" stroke="#000" stroke-width="1.2"/>
<line x1="1146.6" y1="1051.0" x2="1146.6" y2="1055.0" stroke="#000" stroke-width="1.2"/>
<text x="997.5" y="1071.0" font-size="11.6" font-family="'DejaVu Sans', 'Liberation Sans', sans-serif" >-5.0</text>
<text x="1072.1" y="1071.0" font-size="11.6" font-family="'DejaVu Sans', 'Liberation Sans', sans-serif" text-anchor="middle" >TSS</text>
<text x="1147.2" y="1071.0" font-size="11.6" font-family="'DejaVu Sans', 'Liberation Sans', sans-serif" text-anchor="end" >5.0Kb</text>
<text x="1072.1" y="1089.0" font-size="11.8" font-family="'DejaVu Sans', 'Liberation Sans', sans-serif" text-anchor="middle" >gene distance (bp)</text>
<text x="749.8" y="69.7" font-size="23.2" font-family="'Liberation Sans', Arial, sans-serif" text-anchor="middle" >mGIC</text>
<text x="852.6" y="69.7" font-size="23.2" font-family="'Liberation Sans', Arial, sans-serif">NSC Bmi1<tspan font-size="14" dy="-11">Over</tspan></text>
<text x="1078.3" y="69.7" font-size="23.2" font-family="'Liberation Sans', Arial, sans-serif" text-anchor="middle" >NSC</text>
<text x="0.0" y="0.0" font-size="20" font-family="'DejaVu Sans', 'Liberation Sans', sans-serif" text-anchor="middle" transform="translate(664.5,343) rotate(-90)">Cluster A</text>
<text x="0.0" y="0.0" font-size="20" font-family="'DejaVu Sans', 'Liberation Sans', sans-serif" text-anchor="middle" transform="translate(664.5,835) rotate(-90)">Cluster B</text>
<rect x="1394.0" y="105.4" width="137.3" height="194.0" fill="#8b0000"/>
<rect x="1394.0" y="299.1" width="137.3" height="7.1" fill="#2766a6"/>
<rect x="1394.0" y="305.9" width="137.3" height="7.1" fill="#10508e"/>
<rect x="1394.0" y="312.7" width="137.3" height="10.5" fill="#2766a6"/>
<rect x="1394.0" y="322.9" width="137.3" height="20.6" fill="#10508e"/>
<rect x="1394.0" y="343.2" width="137.3" height="8.7" fill="#2766a6"/>
<rect x="1394.0" y="351.6" width="137.3" height="10.7" fill="#10508e"/>
<rect x="1394.0" y="362.0" width="137.3" height="1.9" fill="#2766a6"/>
<rect x="1394.0" y="363.6" width="137.3" height="145.3" fill="#10508e"/>
<rect x="1530.7" y="105.4" width="137.6" height="3.9" fill="#10508e"/>
<rect x="1530.7" y="109.0" width="137.6" height="42.5" fill="#2766a6"/>
<rect x="1530.7" y="151.2" width="137.6" height="41.1" fill="#3d80bf"/>
<rect x="1530.7" y="192.0" width="137.6" height="5.7" fill="#2766a6"/>
<rect x="1530.7" y="197.4" width="137.6" height="1.5" fill="#3d80bf"/>
<rect x="1530.7" y="198.6" width="137.6" height="2.7" fill="#2766a6"/>
<rect x="1530.7" y="201.0" width="137.6" height="44.3" fill="#3d80bf"/>
<rect x="1530.7" y="245.0" width="137.6" height="16.8" fill="#5f9ed4"/>
<rect x="1530.7" y="261.5" width="137.6" height="2.6" fill="#3d80bf"/>
<rect x="1530.7" y="263.8" width="137.6" height="3.2" fill="#5f9ed4"/>
<rect x="1530.7" y="266.7" width="137.6" height="23.4" fill="#5f9ed4"/>
<rect x="1530.7" y="289.8" width="137.6" height="4.8" fill="#a2c4e5"/>
<rect x="1530.7" y="294.3" width="137.6" height="5.1" fill="#5f9ed4"/>
<rect x="1530.7" y="299.1" width="137.6" height="30.2" fill="#8b0000"/>
<rect x="1530.7" y="329.0" width="137.6" height="2.1" fill="#b32d22"/>
<rect x="1530.7" y="330.8" width="137.6" height="12.1" fill="#8b0000"/>
<rect x="1530.7" y="342.6" width="137.6" height="3.9" fill="#a2c4e5"/>
<rect x="1530.7" y="346.2" width="137.6" height="3.5" fill="#dfe9f4"/>
<rect x="1530.7" y="349.4" width="137.6" height="2.1" fill="#a2c4e5"/>
<rect x="1530.7" y="351.2" width="137.6" height="11.1" fill="#fde5de"/>
<rect x="1530.7" y="362.0" width="137.6" height="7.1" fill="#dfe9f4"/>
<rect x="1530.7" y="368.8" width="137.6" height="4.9" fill="#fde5de"/>
<rect x="1530.7" y="373.4" width="137.6" height="19.3" fill="#fc8a5f"/>
<rect x="1530.7" y="392.4" width="137.6" height="10.7" fill="#fdb99c"/>
<rect x="1530.7" y="402.8" width="137.6" height="2.5" fill="#fde5de"/>
<rect x="1530.7" y="405.0" width="137.6" height="14.4" fill="#fdb99c"/>
<rect x="1530.7" y="419.1" width="137.6" height="14.6" fill="#de5b38"/>
<rect x="1530.7" y="433.4" width="137.6" height="8.2" fill="#fc8a5f"/>
<rect x="1530.7" y="441.3" width="137.6" height="2.6" fill="#de5b38"/>
<rect x="1530.7" y="443.6" width="137.6" height="2.1" fill="#fc8a5f"/>
<rect x="1530.7" y="445.4" width="137.6" height="13.0" fill="#b32d22"/>
<rect x="1530.7" y="458.1" width="137.6" height="16.2" fill="#de5b38"/>
<rect x="1530.7" y="474.0" width="137.6" height="4.3" fill="#b32d22"/>
<rect x="1530.7" y="478.0" width="137.6" height="2.1" fill="#de5b38"/>
<rect x="1530.7" y="479.8" width="137.6" height="29.1" fill="#b32d22"/>
<rect x="1667.7" y="105.4" width="136.6" height="1.2" fill="#fde5de"/>
<rect x="1667.7" y="106.3" width="136.6" height="15.0" fill="#dfe9f4"/>
<rect x="1667.7" y="121.0" width="136.6" height="8.3" fill="#a2c4e5"/>
<rect x="1667.7" y="129.0" width="136.6" height="2.1" fill="#f7f7f7"/>
<rect x="1667.7" y="130.8" width="136.6" height="20.7" fill="#a2c4e5"/>
<rect x="1667.7" y="151.2" width="136.6" height="33.1" fill="#5f9ed4"/>
<rect x="1667.7" y="184.0" width="136.6" height="3.7" fill="#a2c4e5"/>
<rect x="1667.7" y="187.4" width="136.6" height="4.9" fill="#5f9ed4"/>
<rect x="1667.7" y="192.0" width="136.6" height="12.5" fill="#a2c4e5"/>
<rect x="1667.7" y="204.2" width="136.6" height="41.1" fill="#5f9ed4"/>
<rect x="1667.7" y="245.0" width="136.6" height="16.8" fill="#3d80bf"/>
<rect x="1667.7" y="261.5" width="136.6" height="2.3" fill="#5f9ed4"/>
<rect x="1667.7" y="263.5" width="136.6" height="3.5" fill="#3d80bf"/>
<rect x="1667.7" y="266.7" width="136.6" height="23.4" fill="#3d80bf"/>
<rect x="1667.7" y="289.8" width="136.6" height="4.5" fill="#2766a6"/>
<rect x="1667.7" y="294.0" width="136.6" height="5.4" fill="#3d80bf"/>
<rect x="1667.7" y="299.1" width="136.6" height="2.6" fill="#a2c4e5"/>
<rect x="1667.7" y="301.4" width="136.6" height="2.5" fill="#dfe9f4"/>
<rect x="1667.7" y="303.6" width="136.6" height="2.6" fill="#a2c4e5"/>
<rect x="1667.7" y="305.9" width="136.6" height="17.9" fill="#dfe9f4"/>
<rect x="1667.7" y="323.5" width="136.6" height="15.5" fill="#fde5de"/>
<rect x="1667.7" y="338.7" width="136.6" height="4.2" fill="#dfe9f4"/>
<rect x="1667.7" y="342.6" width="136.6" height="10.7" fill="#8b0000"/>
<rect x="1667.7" y="353.0" width="136.6" height="9.3" fill="#b32d22"/>
<rect x="1667.7" y="362.0" width="136.6" height="11.7" fill="#8b0000"/>
<rect x="1667.7" y="373.4" width="136.6" height="21.1" fill="#de5b38"/>
<rect x="1667.7" y="394.2" width="136.6" height="4.4" fill="#b32d22"/>
<rect x="1667.7" y="398.3" width="136.6" height="3.0" fill="#de5b38"/>
<rect x="1667.7" y="401.0" width="136.6" height="18.4" fill="#b32d22"/>
<rect x="1667.7" y="419.1" width="136.6" height="15.1" fill="#fc8a5f"/>
<rect x="1667.7" y="433.9" width="136.6" height="7.7" fill="#de5b38"/>
<rect x="1667.7" y="441.3" width="136.6" height="2.1" fill="#b32d22"/>
<rect x="1667.7" y="443.1" width="136.6" height="2.6" fill="#fc8a5f"/>
<rect x="1667.7" y="445.4" width="136.6" height="13.0" fill="#fdb99c"/>
<rect x="1667.7" y="458.1" width="136.6" height="13.9" fill="#fc8a5f"/>
<rect x="1667.7" y="471.7" width="136.6" height="8.6" fill="#fdb99c"/>
<rect x="1667.7" y="480.0" width="136.6" height="2.9" fill="#fde5de"/>
<rect x="1667.7" y="482.6" width="136.6" height="2.5" fill="#f7f7f7"/>
<rect x="1667.7" y="484.8" width="136.6" height="7.5" fill="#fdb99c"/>
<rect x="1667.7" y="492.0" width="136.6" height="16.9" fill="#fde5de"/>
<path d="M1462.3,104.3 V59.1 H1667.7 V88.3" stroke="#222" stroke-width="1.3" fill="none"/>
<path d="M1599,104.3 V88.3 H1736 V104.3" stroke="#222" stroke-width="1.3" fill="none"/>
<text x="1469.5" y="539.6" font-size="24" font-family="'Liberation Sans', Arial, sans-serif" text-anchor="middle" >mGIC</text>
<text x="1533.9" y="539.6" font-size="24" font-family="'Liberation Sans', Arial, sans-serif">NSC Bmi1<tspan font-size="14" dy="-10">Over</tspan></text>
<text x="1734.8" y="539.6" font-size="24" font-family="'Liberation Sans', Arial, sans-serif" text-anchor="middle" >NSC</text>
<rect x="1896.00" y="555.2" width="4.10" height="31.399999999999977" fill="#0f4f8d"/>
<rect x="1899.80" y="555.2" width="4.10" height="31.399999999999977" fill="#2766a6"/>
<rect x="1903.60" y="555.2" width="4.10" height="31.399999999999977" fill="#3d80bf"/>
<rect x="1907.40" y="555.2" width="4.10" height="31.399999999999977" fill="#5f9ed4"/>
<rect x="1911.20" y="555.2" width="4.10" height="31.399999999999977" fill="#a2c4e5"/>
<rect x="1915.00" y="555.2" width="4.10" height="31.399999999999977" fill="#dfe9f4"/>
<rect x="1918.80" y="555.2" width="4.10" height="31.399999999999977" fill="#fde5de"/>
<rect x="1922.60" y="555.2" width="4.10" height="31.399999999999977" fill="#fdb99c"/>
<rect x="1926.40" y="555.2" width="4.10" height="31.399999999999977" fill="#fc8a5f"/>
<rect x="1930.20" y="555.2" width="4.10" height="31.399999999999977" fill="#de5b38"/>
<rect x="1934.00" y="555.2" width="4.10" height="31.399999999999977" fill="#b32d22"/>
<rect x="1937.80" y="555.2" width="4.10" height="31.399999999999977" fill="#8b0000"/>
<rect x="1896.0" y="555.2" width="45.6" height="31.4" fill="none" stroke="#333" stroke-width="0.7"/>
<line x1="1899.2" y1="586.6" x2="1899.2" y2="593.1" stroke="#222" stroke-width="1"/>
<line x1="1909.0" y1="586.6" x2="1909.0" y2="593.1" stroke="#222" stroke-width="1"/>
<line x1="1918.7" y1="586.6" x2="1918.7" y2="593.1" stroke="#222" stroke-width="1"/>
<line x1="1928.5" y1="586.6" x2="1928.5" y2="593.1" stroke="#222" stroke-width="1"/>
<line x1="1938.2" y1="586.6" x2="1938.2" y2="593.1" stroke="#222" stroke-width="1"/>
<text x="1898.8" y="608.7" font-size="10.5" font-family="'Liberation Sans', Arial, sans-serif" text-anchor="middle" >−1</text>
<text x="1918.7" y="608.7" font-size="10.5" font-family="'Liberation Sans', Arial, sans-serif" text-anchor="middle" >0</text>
<text x="1938.4" y="608.7" font-size="10.5" font-family="'Liberation Sans', Arial, sans-serif" text-anchor="middle" >1</text>
<text x="1918.6" y="624.4" font-size="10.2" font-family="'Liberation Sans', Arial, sans-serif" text-anchor="middle" >Scaled Values</text>
<circle cx="1443.1" cy="893.0" r="118.0" fill="#fed23a" stroke="#c8900a" stroke-width="1.1"/>
<circle cx="1475.9" cy="873.6" r="119.2" fill="#e07272" stroke="#b04a2a" stroke-width="1.1"/>
<circle cx="1475.9" cy="873.6" r="119.2" fill="#e05a1a" clip-path="url(#vc1)"/>
<circle cx="1443.1" cy="893.0" r="118.0" fill="none" stroke="#c0501a" stroke-width="1.0" clip-path="url(#vc1b)"/>
<circle cx="1475.9" cy="873.6" r="119.2" fill="none" stroke="#c0501a" stroke-width="1.0" clip-path="url(#vc1)"/>
<circle cx="1829.1" cy="893.0" r="118.0" fill="#fed23a" stroke="#c8900a" stroke-width="1.1"/>
<circle cx="1861.3" cy="873.6" r="119.4" fill="#e07272" stroke="#b04a2a" stroke-width="1.1"/>
<circle cx="1861.3" cy="873.6" r="119.4" fill="#e05a1a" clip-path="url(#vc2)"/>
<circle cx="1829.1" cy="893.0" r="118.0" fill="none" stroke="#c0501a" stroke-width="1.0" clip-path="url(#vc2b)"/>
<circle cx="1861.3" cy="873.6" r="119.4" fill="none" stroke="#c0501a" stroke-width="1.0" clip-path="url(#vc2)"/>
<circle cx="1812.2" cy="829.4" r="27.5" fill="#3a62c0" stroke="#28449a" stroke-width="1"/>
<text x="1812.2" y="834.4" font-size="13.5" font-family="'Liberation Sans', Arial, sans-serif" text-anchor="middle" fill="#fff" textLength="25.0" lengthAdjust="spacingAndGlyphs" >231</text>
<text x="1547.0" y="810.0" font-size="19.5" font-family="'Liberation Sans', Arial, sans-serif" text-anchor="middle" textLength="31.2" lengthAdjust="spacingAndGlyphs" stroke="#000" stroke-width="0.3">412</text>
<text x="1459.7" y="888.8" font-size="19.5" font-family="'Liberation Sans', Arial, sans-serif" text-anchor="middle" textLength="42.5" lengthAdjust="spacingAndGlyphs" stroke="#000" stroke-width="0.3">3813</text>
<text x="1376.0" y="974.5" font-size="19.5" font-family="'Liberation Sans', Arial, sans-serif" text-anchor="middle" textLength="31.1" lengthAdjust="spacingAndGlyphs" stroke="#000" stroke-width="0.3">572</text>
<text x="1432.4" y="730.0" font-size="28.2" font-family="'Liberation Sans', Arial, sans-serif" fill="#be2008" textLength="179.0" lengthAdjust="spacingAndGlyphs" >mGIC vs NSC</text>
<text x="1233.1" y="1058.6" font-size="28.6" font-family="'Liberation Sans', Arial, sans-serif" fill="#eeaa2a">mGIC vs NSC Bmi1<tspan font-size="17.5" dy="-13">Over</tspan></text>
<text x="1821.5" y="690.9" font-size="28.8" font-family="'Liberation Sans', Arial, sans-serif" text-anchor="middle" fill="#1e90f0" textLength="73.0" lengthAdjust="spacingAndGlyphs" >mGIC</text>
<text x="1825.9" y="724.5" font-size="28.8" font-family="'Liberation Sans', Arial, sans-serif" text-anchor="middle" fill="#1e90f0" textLength="235.7" lengthAdjust="spacingAndGlyphs" >unique concordant</text>
<rect x="138.2" y="1584.7" width="11.2" height="66.8" fill="#ffff00" stroke="#000" stroke-width="2"/>
<rect x="160.9" y="1597.0" width="11.2" height="54.4" fill="#006400" stroke="#000" stroke-width="2"/>
<line x1="166.5" y1="1595.3" x2="166.5" y2="1597.0" stroke="#000" stroke-width="2"/><line x1="163.0" y1="1595.3" x2="170.0" y2="1595.3" stroke="#000" stroke-width="2"/>
<line x1="183.9" y1="1649.9" x2="193.9" y2="1649.9" stroke="#000" stroke-width="1.5"/>
<rect x="183.3" y="1670.2" width="11.2" height="137.1" fill="#ff0000" stroke="#000" stroke-width="2"/>
<rect x="138.2" y="1670.2" width="11.2" height="137.1" fill="#ffff00" stroke="#000" stroke-width="2"/>
<rect x="160.9" y="1670.2" width="11.2" height="137.1" fill="#006400" stroke="#000" stroke-width="2"/>
<line x1="166.1" y1="1807.3" x2="166.1" y2="1814.3" stroke="#000" stroke-width="2"/>
<text x="0.0" y="0.0" font-size="22.5" font-family="'Liberation Sans', Arial, sans-serif" text-anchor="end" transform="translate(172.6,1834) rotate(-45)">EphA2</text>
<rect x="219.3" y="1584.7" width="11.2" height="66.8" fill="#ffff00" stroke="#000" stroke-width="2"/>
<rect x="242.0" y="1584.8" width="11.2" height="66.6" fill="#006400" stroke="#000" stroke-width="2"/>
<line x1="247.6" y1="1580.6" x2="247.6" y2="1584.8" stroke="#000" stroke-width="2"/><line x1="244.1" y1="1580.6" x2="251.1" y2="1580.6" stroke="#000" stroke-width="2"/>
<rect x="264.4" y="1649.7" width="11.2" height="1.7" fill="#ff0000" stroke="#000" stroke-width="2"/>
<line x1="270.0" y1="1648.7" x2="270.0" y2="1649.7" stroke="#000" stroke-width="2"/><line x1="266.5" y1="1648.7" x2="273.5" y2="1648.7" stroke="#000" stroke-width="2"/>
<rect x="264.4" y="1670.2" width="11.2" height="137.1" fill="#ff0000" stroke="#000" stroke-width="2"/>
<rect x="219.3" y="1670.2" width="11.2" height="137.1" fill="#ffff00" stroke="#000" stroke-width="2"/>
<rect x="242.0" y="1670.2" width="11.2" height="137.1" fill="#006400" stroke="#000" stroke-width="2"/>
<line x1="247.2" y1="1807.3" x2="247.2" y2="1814.3" stroke="#000" stroke-width="2"/>
<text x="0.0" y="0.0" font-size="22.5" font-family="'Liberation Sans', Arial, sans-serif" text-anchor="end" transform="translate(253.7,1834) rotate(-45)">EfnA5</text>
<rect x="300.4" y="1584.7" width="11.2" height="66.8" fill="#ffff00" stroke="#000" stroke-width="2"/>
<rect x="323.1" y="1548.6" width="11.2" height="102.8" fill="#006400" stroke="#000" stroke-width="2"/>
<line x1="328.7" y1="1545.3" x2="328.7" y2="1548.6" stroke="#000" stroke-width="2"/><line x1="325.2" y1="1545.3" x2="332.2" y2="1545.3" stroke="#000" stroke-width="2"/>
<rect x="345.5" y="1697.6" width="11.2" height="109.7" fill="#ff0000" stroke="#000" stroke-width="2"/>
<line x1="351.1" y1="1674.6" x2="351.1" y2="1697.6" stroke="#000" stroke-width="2"/><line x1="347.6" y1="1674.6" x2="354.6" y2="1674.6" stroke="#000" stroke-width="2"/>
<rect x="300.4" y="1670.2" width="11.2" height="137.1" fill="#ffff00" stroke="#000" stroke-width="2"/>
<rect x="323.1" y="1670.2" width="11.2" height="137.1" fill="#006400" stroke="#000" stroke-width="2"/>
<line x1="328.3" y1="1807.3" x2="328.3" y2="1814.3" stroke="#000" stroke-width="2"/>
<text x="0.0" y="0.0" font-size="22.5" font-family="'Liberation Sans', Arial, sans-serif" text-anchor="end" transform="translate(334.8,1834) rotate(-45)">Cpne2</text>
<rect x="381.4" y="1584.7" width="11.2" height="66.8" fill="#ffff00" stroke="#000" stroke-width="2"/>
<rect x="404.1" y="1580.6" width="11.2" height="70.8" fill="#006400" stroke="#000" stroke-width="2"/>
<line x1="409.7" y1="1565.3" x2="409.7" y2="1580.6" stroke="#000" stroke-width="2"/><line x1="406.2" y1="1565.3" x2="413.2" y2="1565.3" stroke="#000" stroke-width="2"/>
<rect x="426.5" y="1642.2" width="11.2" height="9.2" fill="#ff0000" stroke="#000" stroke-width="2"/>
<line x1="432.1" y1="1636.9" x2="432.1" y2="1642.2" stroke="#000" stroke-width="2"/><line x1="428.6" y1="1636.9" x2="435.6" y2="1636.9" stroke="#000" stroke-width="2"/>
<rect x="426.5" y="1670.2" width="11.2" height="137.1" fill="#ff0000" stroke="#000" stroke-width="2"/>
<rect x="381.4" y="1670.2" width="11.2" height="137.1" fill="#ffff00" stroke="#000" stroke-width="2"/>
<rect x="404.1" y="1670.2" width="11.2" height="137.1" fill="#006400" stroke="#000" stroke-width="2"/>
<line x1="409.3" y1="1807.3" x2="409.3" y2="1814.3" stroke="#000" stroke-width="2"/>
<text x="0.0" y="0.0" font-size="22.5" font-family="'Liberation Sans', Arial, sans-serif" text-anchor="end" transform="translate(415.8,1834) rotate(-45)">Cacna1g</text>
<rect x="462.5" y="1584.7" width="11.2" height="66.8" fill="#ffff00" stroke="#000" stroke-width="2"/>
<rect x="485.2" y="1618.7" width="11.2" height="32.7" fill="#006400" stroke="#000" stroke-width="2"/>
<line x1="490.8" y1="1594.4" x2="490.8" y2="1618.7" stroke="#000" stroke-width="2"/><line x1="487.3" y1="1594.4" x2="494.3" y2="1594.4" stroke="#000" stroke-width="2"/>
<rect x="507.6" y="1645.5" width="11.2" height="5.9" fill="#ff0000" stroke="#000" stroke-width="2"/>
<line x1="513.2" y1="1638.5" x2="513.2" y2="1645.5" stroke="#000" stroke-width="2"/><line x1="509.7" y1="1638.5" x2="516.7" y2="1638.5" stroke="#000" stroke-width="2"/>
<rect x="507.6" y="1670.2" width="11.2" height="137.1" fill="#ff0000" stroke="#000" stroke-width="2"/>
<rect x="462.5" y="1670.2" width="11.2" height="137.1" fill="#ffff00" stroke="#000" stroke-width="2"/>
<rect x="485.2" y="1670.2" width="11.2" height="137.1" fill="#006400" stroke="#000" stroke-width="2"/>
<line x1="490.4" y1="1807.3" x2="490.4" y2="1814.3" stroke="#000" stroke-width="2"/>
<text x="0.0" y="0.0" font-size="22.5" font-family="'Liberation Sans', Arial, sans-serif" text-anchor="end" transform="translate(496.9,1834) rotate(-45)">Scrt1</text>
<rect x="543.6" y="1584.7" width="11.2" height="66.8" fill="#ffff00" stroke="#000" stroke-width="2"/>
<rect x="566.3" y="1554.2" width="11.2" height="97.2" fill="#006400" stroke="#000" stroke-width="2"/>
<line x1="571.9" y1="1547.6" x2="571.9" y2="1554.2" stroke="#000" stroke-width="2"/><line x1="568.4" y1="1547.6" x2="575.4" y2="1547.6" stroke="#000" stroke-width="2"/>
<line x1="589.3" y1="1649.9" x2="599.3" y2="1649.9" stroke="#000" stroke-width="1.5"/>
<rect x="588.7" y="1670.2" width="11.2" height="137.1" fill="#ff0000" stroke="#000" stroke-width="2"/>
<rect x="543.6" y="1670.2" width="11.2" height="137.1" fill="#ffff00" stroke="#000" stroke-width="2"/>
<rect x="566.3" y="1670.2" width="11.2" height="137.1" fill="#006400" stroke="#000" stroke-width="2"/>
<line x1="571.5" y1="1807.3" x2="571.5" y2="1814.3" stroke="#000" stroke-width="2"/>
<text x="0.0" y="0.0" font-size="22.5" font-family="'Liberation Sans', Arial, sans-serif" text-anchor="end" transform="translate(578.0,1834) rotate(-45)">Jph3</text>
<rect x="624.7" y="1584.7" width="11.2" height="66.8" fill="#ffff00" stroke="#000" stroke-width="2"/>
<rect x="647.4" y="1623.5" width="11.2" height="27.9" fill="#006400" stroke="#000" stroke-width="2"/>
<line x1="653.0" y1="1594.5" x2="653.0" y2="1623.5" stroke="#000" stroke-width="2"/><line x1="649.5" y1="1594.5" x2="656.5" y2="1594.5" stroke="#000" stroke-width="2"/>
<line x1="670.4" y1="1649.9" x2="680.4" y2="1649.9" stroke="#000" stroke-width="1.5"/>
<rect x="669.8" y="1670.2" width="11.2" height="137.1" fill="#ff0000" stroke="#000" stroke-width="2"/>
<rect x="624.7" y="1670.2" width="11.2" height="137.1" fill="#ffff00" stroke="#000" stroke-width="2"/>
<rect x="647.4" y="1670.2" width="11.2" height="137.1" fill="#006400" stroke="#000" stroke-width="2"/>
<line x1="652.6" y1="1807.3" x2="652.6" y2="1814.3" stroke="#000" stroke-width="2"/>
<text x="0.0" y="0.0" font-size="22.5" font-family="'Liberation Sans', Arial, sans-serif" text-anchor="end" transform="translate(659.1,1834) rotate(-45)">Lrfn2</text>
<rect x="705.8" y="1584.7" width="11.2" height="66.8" fill="#ffff00" stroke="#000" stroke-width="2"/>
<rect x="728.5" y="1569.1" width="11.2" height="82.3" fill="#006400" stroke="#000" stroke-width="2"/>
<line x1="734.1" y1="1562.6" x2="734.1" y2="1569.1" stroke="#000" stroke-width="2"/><line x1="730.6" y1="1562.6" x2="737.6" y2="1562.6" stroke="#000" stroke-width="2"/>
<rect x="750.9" y="1740.7" width="11.2" height="66.6" fill="#ff0000" stroke="#000" stroke-width="2"/>
<line x1="756.5" y1="1736.0" x2="756.5" y2="1740.7" stroke="#000" stroke-width="2"/><line x1="753.0" y1="1736.0" x2="760.0" y2="1736.0" stroke="#000" stroke-width="2"/>
<rect x="705.8" y="1670.2" width="11.2" height="137.1" fill="#ffff00" stroke="#000" stroke-width="2"/>
<rect x="728.5" y="1670.2" width="11.2" height="137.1" fill="#006400" stroke="#000" stroke-width="2"/>
<line x1="733.7" y1="1807.3" x2="733.7" y2="1814.3" stroke="#000" stroke-width="2"/>
<text x="0.0" y="0.0" font-size="22.5" font-family="'Liberation Sans', Arial, sans-serif" text-anchor="end" transform="translate(740.2,1834) rotate(-45)">Wnt7a</text>
<rect x="786.8" y="1584.7" width="11.2" height="66.8" fill="#ffff00" stroke="#000" stroke-width="2"/>
<rect x="809.5" y="1541.1" width="11.2" height="110.3" fill="#006400" stroke="#000" stroke-width="2"/>
<line x1="815.1" y1="1520.6" x2="815.1" y2="1541.1" stroke="#000" stroke-width="2"/><line x1="811.6" y1="1520.6" x2="818.6" y2="1520.6" stroke="#000" stroke-width="2"/>
<line x1="832.5" y1="1649.9" x2="842.5" y2="1649.9" stroke="#000" stroke-width="1.5"/>
<rect x="831.9" y="1697.6" width="11.2" height="109.7" fill="#ff0000" stroke="#000" stroke-width="2"/>
<line x1="837.5" y1="1670.2" x2="837.5" y2="1697.6" stroke="#000" stroke-width="2"/>
<rect x="786.8" y="1670.2" width="11.2" height="137.1" fill="#ffff00" stroke="#000" stroke-width="2"/>
<rect x="809.5" y="1670.2" width="11.2" height="137.1" fill="#006400" stroke="#000" stroke-width="2"/>
<line x1="814.7" y1="1807.3" x2="814.7" y2="1814.3" stroke="#000" stroke-width="2"/>
<text x="0.0" y="0.0" font-size="22.5" font-family="'Liberation Sans', Arial, sans-serif" text-anchor="end" transform="translate(821.2,1834) rotate(-45)">Grin2a</text>
<rect x="867.9" y="1584.7" width="11.2" height="66.8" fill="#ffff00" stroke="#000" stroke-width="2"/>
<rect x="890.6" y="1517.9" width="11.2" height="133.5" fill="#006400"/>
<path d="M890.6,1517.9 V1651.4 H901.8 V1517.9" fill="none" stroke="#000" stroke-width="2"/>
<line x1="896.2" y1="1458.6" x2="896.2" y2="1498.2" stroke="#000" stroke-width="2"/><line x1="892.7" y1="1458.6" x2="899.7" y2="1458.6" stroke="#000" stroke-width="2"/>
<rect x="913.0" y="1650.1" width="11.2" height="1.3" fill="#ff0000" stroke="#000" stroke-width="2"/>
<line x1="918.6" y1="1648.7" x2="918.6" y2="1650.1" stroke="#000" stroke-width="2"/><line x1="915.1" y1="1648.7" x2="922.1" y2="1648.7" stroke="#000" stroke-width="2"/>
<rect x="913.0" y="1670.2" width="11.2" height="137.1" fill="#ff0000" stroke="#000" stroke-width="2"/>
<rect x="867.9" y="1670.2" width="11.2" height="137.1" fill="#ffff00" stroke="#000" stroke-width="2"/>
<rect x="890.6" y="1670.2" width="11.2" height="137.1" fill="#006400" stroke="#000" stroke-width="2"/>
<line x1="895.8" y1="1807.3" x2="895.8" y2="1814.3" stroke="#000" stroke-width="2"/>
<text x="0.0" y="0.0" font-size="22.5" font-family="'Liberation Sans', Arial, sans-serif" text-anchor="end" transform="translate(902.3,1834) rotate(-45)">Cacna1a</text>
<rect x="949.0" y="1584.7" width="11.2" height="66.8" fill="#ffff00" stroke="#000" stroke-width="2"/>
<rect x="971.7" y="1551.9" width="11.2" height="99.5" fill="#006400" stroke="#000" stroke-width="2"/>
<line x1="977.3" y1="1547.9" x2="977.3" y2="1551.9" stroke="#000" stroke-width="2"/><line x1="973.8" y1="1547.9" x2="980.8" y2="1547.9" stroke="#000" stroke-width="2"/>
<rect x="994.1" y="1757.1" width="11.2" height="50.2" fill="#ff0000" stroke="#000" stroke-width="2"/>
<line x1="999.7" y1="1733.5" x2="999.7" y2="1757.1" stroke="#000" stroke-width="2"/><line x1="996.2" y1="1733.5" x2="1003.2" y2="1733.5" stroke="#000" stroke-width="2"/>
<rect x="949.0" y="1670.2" width="11.2" height="137.1" fill="#ffff00" stroke="#000" stroke-width="2"/>
<rect x="971.7" y="1670.2" width="11.2" height="137.1" fill="#006400" stroke="#000" stroke-width="2"/>
<line x1="976.9" y1="1807.3" x2="976.9" y2="1814.3" stroke="#000" stroke-width="2"/>
<text x="0.0" y="0.0" font-size="22.5" font-family="'Liberation Sans', Arial, sans-serif" text-anchor="end" transform="translate(983.4,1834) rotate(-45)">Cacna1h</text>
<rect x="1030.1" y="1584.7" width="11.2" height="66.8" fill="#ffff00" stroke="#000" stroke-width="2"/>
<rect x="1052.8" y="1517.9" width="11.2" height="133.5" fill="#006400"/>
<path d="M1052.8,1517.9 V1651.4 H1064.0 V1517.9" fill="none" stroke="#000" stroke-width="2"/>
<rect x="1052.8" y="1484.1" width="11.2" height="14.1" fill="#006400" stroke="#000" stroke-width="2"/>
<line x1="1058.4" y1="1404.3" x2="1058.4" y2="1484.1" stroke="#000" stroke-width="2"/><line x1="1054.9" y1="1404.3" x2="1061.9" y2="1404.3" stroke="#000" stroke-width="2"/>
<rect x="1075.2" y="1545.4" width="11.2" height="106.0" fill="#ff0000" stroke="#000" stroke-width="2"/>
<line x1="1080.8" y1="1539.5" x2="1080.8" y2="1545.4" stroke="#000" stroke-width="2"/><line x1="1077.3" y1="1539.5" x2="1084.3" y2="1539.5" stroke="#000" stroke-width="2"/>
<rect x="1075.2" y="1670.2" width="11.2" height="137.1" fill="#ff0000" stroke="#000" stroke-width="2"/>
<rect x="1030.1" y="1670.2" width="11.2" height="137.1" fill="#ffff00" stroke="#000" stroke-width="2"/>
<rect x="1052.8" y="1670.2" width="11.2" height="137.1" fill="#006400" stroke="#000" stroke-width="2"/>
<line x1="1058.0" y1="1807.3" x2="1058.0" y2="1814.3" stroke="#000" stroke-width="2"/>
<text x="0.0" y="0.0" font-size="22.5" font-family="'Liberation Sans', Arial, sans-serif" text-anchor="end" transform="translate(1064.5,1834) rotate(-45)">Capb1</text>
<rect x="1111.2" y="1584.7" width="11.2" height="66.8" fill="#ffff00" stroke="#000" stroke-width="2"/>
<rect x="1133.9" y="1517.9" width="11.2" height="133.5" fill="#006400"/>
<path d="M1133.9,1517.9 V1651.4 H1145.1 V1517.9" fill="none" stroke="#000" stroke-width="2"/>
<rect x="1156.3" y="1641.7" width="11.2" height="9.7" fill="#ff0000" stroke="#000" stroke-width="2"/>
<line x1="1161.9" y1="1634.1" x2="1161.9" y2="1641.7" stroke="#000" stroke-width="2"/><line x1="1158.4" y1="1634.1" x2="1165.4" y2="1634.1" stroke="#000" stroke-width="2"/>
<rect x="1156.3" y="1670.2" width="11.2" height="137.1" fill="#ff0000" stroke="#000" stroke-width="2"/>
<rect x="1111.2" y="1670.2" width="11.2" height="137.1" fill="#ffff00" stroke="#000" stroke-width="2"/>
<rect x="1133.9" y="1670.2" width="11.2" height="137.1" fill="#006400" stroke="#000" stroke-width="2"/>
<line x1="1139.1" y1="1807.3" x2="1139.1" y2="1814.3" stroke="#000" stroke-width="2"/>
<text x="0.0" y="0.0" font-size="22.5" font-family="'Liberation Sans', Arial, sans-serif" text-anchor="end" transform="translate(1145.6,1834) rotate(-45)">Eya2</text>
<line x1="126.2" y1="1364.0" x2="126.2" y2="1498.2" stroke="#000" stroke-width="2.6"/>
<line x1="126.2" y1="1517.9" x2="126.2" y2="1651.4" stroke="#000" stroke-width="2.6"/>
<line x1="126.2" y1="1670.2" x2="126.2" y2="1807.3" stroke="#000" stroke-width="2.6"/>
<line x1="117.5" y1="1807.3" x2="1182.3" y2="1807.3" stroke="#000" stroke-width="2.6"/>
<line x1="118.5" y1="1498.2" x2="131.8" y2="1498.2" stroke="#000" stroke-width="2.6"/>
<text x="114.7" y="1506.0" font-size="22" font-family="'Liberation Sans', Arial, sans-serif" text-anchor="end" >4</text>
<line x1="118.5" y1="1464.7" x2="126.2" y2="1464.7" stroke="#000" stroke-width="2.6"/>
<text x="114.7" y="1472.5" font-size="22" font-family="'Liberation Sans', Arial, sans-serif" text-anchor="end" >5</text>
<line x1="118.5" y1="1431.1" x2="126.2" y2="1431.1" stroke="#000" stroke-width="2.6"/>
<text x="114.7" y="1438.9" font-size="22" font-family="'Liberation Sans', Arial, sans-serif" text-anchor="end" >6</text>
<line x1="118.5" y1="1397.5" x2="126.2" y2="1397.5" stroke="#000" stroke-width="2.6"/>
<text x="114.7" y="1405.3" font-size="22" font-family="'Liberation Sans', Arial, sans-serif" text-anchor="end" >7</text>
<line x1="118.5" y1="1364.0" x2="126.2" y2="1364.0" stroke="#000" stroke-width="2.6"/>
<text x="114.7" y="1371.8" font-size="22" font-family="'Liberation Sans', Arial, sans-serif" text-anchor="end" >8</text>
<line x1="118.5" y1="1517.9" x2="131.8" y2="1517.9" stroke="#000" stroke-width="2.6"/>
<text x="114.7" y="1525.7" font-size="22" font-family="'Liberation Sans', Arial, sans-serif" text-anchor="end" >2.0</text>
<line x1="118.5" y1="1551.3" x2="126.2" y2="1551.3" stroke="#000" stroke-width="2.6"/>
<text x="114.7" y="1559.1" font-size="22" font-family="'Liberation Sans', Arial, sans-serif" text-anchor="end" >1.5</text>
<line x1="118.5" y1="1584.7" x2="126.2" y2="1584.7" stroke="#000" stroke-width="2.6"/>
<text x="114.7" y="1592.5" font-size="22" font-family="'Liberation Sans', Arial, sans-serif" text-anchor="end" >1.0</text>
<line x1="118.5" y1="1618.0" x2="126.2" y2="1618.0" stroke="#000" stroke-width="2.6"/>
<text x="114.7" y="1625.8" font-size="22" font-family="'Liberation Sans', Arial, sans-serif" text-anchor="end" >0.5</text>
<line x1="117.5" y1="1651.4" x2="131.8" y2="1651.4" stroke="#000" stroke-width="2.6"/>
<line x1="118.5" y1="1807.3" x2="126.2" y2="1807.3" stroke="#000" stroke-width="2.6"/>
<text x="114.7" y="1815.1" font-size="22.5" font-family="'Liberation Sans', Arial, sans-serif" text-anchor="end" >0.000</text>
<line x1="118.5" y1="1779.9" x2="126.2" y2="1779.9" stroke="#000" stroke-width="2.6"/>
<text x="114.7" y="1787.7" font-size="22.5" font-family="'Liberation Sans', Arial, sans-serif" text-anchor="end" >0.001</text>
<line x1="118.5" y1="1752.5" x2="126.2" y2="1752.5" stroke="#000" stroke-width="2.6"/>
<text x="114.7" y="1760.3" font-size="22.5" font-family="'Liberation Sans', Arial, sans-serif" text-anchor="end" >0.002</text>
<line x1="118.5" y1="1725.0" x2="126.2" y2="1725.0" stroke="#000" stroke-width="2.6"/>
<text x="114.7" y="1732.8" font-size="22.5" font-family="'Liberation Sans', Arial, sans-serif" text-anchor="end" >0.003</text>
<line x1="118.5" y1="1697.6" x2="126.2" y2="1697.6" stroke="#000" stroke-width="2.6"/>
<text x="114.7" y="1705.4" font-size="22.5" font-family="'Liberation Sans', Arial, sans-serif" text-anchor="end" >0.004</text>
<line x1="118.5" y1="1670.2" x2="131.8" y2="1670.2" stroke="#000" stroke-width="2.6"/>
<text x="114.7" y="1678.0" font-size="22.5" font-family="'Liberation Sans', Arial, sans-serif" text-anchor="end" >0.005</text>
<text x="0.0" y="0.0" font-size="22" font-family="'Liberation Sans', Arial, sans-serif" text-anchor="middle" transform="translate(48.5,1583.7) rotate(-90)">Fold Change</text>
<text x="189.5" y="1552.8" font-size="51" font-family="'Liberation Sans', Arial, sans-serif" text-anchor="middle" stroke="#000" stroke-width="0.6">*</text>
<text x="269.6" y="1552.8" font-size="51" font-family="'Liberation Sans', Arial, sans-serif" text-anchor="middle" stroke="#000" stroke-width="0.6">*</text>
<text x="332.9" y="1528.0" font-size="51" font-family="'Liberation Sans', Arial, sans-serif" text-anchor="middle" stroke="#000" stroke-width="0.6">***</text>
<text x="497.0" y="1556.0" font-size="51" font-family="'Liberation Sans', Arial, sans-serif" text-anchor="middle" stroke="#000" stroke-width="0.6">**</text>
<text x="593.2" y="1557.0" font-size="51" font-family="'Liberation Sans', Arial, sans-serif" text-anchor="middle" stroke="#000" stroke-width="0.6">*</text>
<text x="657.2" y="1511.1" font-size="51" font-family="'Liberation Sans', Arial, sans-serif" text-anchor="middle" stroke="#000" stroke-width="0.6">***</text>
<text x="736.3" y="1561.2" font-size="51" font-family="'Liberation Sans', Arial, sans-serif" text-anchor="middle" stroke="#000" stroke-width="0.6">***</text>
<text x="813.8" y="1511.0" font-size="51" font-family="'Liberation Sans', Arial, sans-serif" text-anchor="middle" stroke="#000" stroke-width="0.6">***</text>
<text x="893.5" y="1454.7" font-size="51" font-family="'Liberation Sans', Arial, sans-serif" text-anchor="middle" stroke="#000" stroke-width="0.6">***</text>
<text x="974.3" y="1534.8" font-size="51" font-family="'Liberation Sans', Arial, sans-serif" text-anchor="middle" stroke="#000" stroke-width="0.6">***</text>
<rect x="985.2" y="1274.2" width="26" height="11.2" fill="#ffff00" stroke="#000" stroke-width="2"/>
<rect x="985.2" y="1303.8" width="26" height="11.2" fill="#006400" stroke="#000" stroke-width="2"/>
<rect x="985.2" y="1331.8" width="26" height="11.2" fill="#ff0000" stroke="#000" stroke-width="2"/>
<text x="1029.7" y="1287.3" font-size="23" font-family="'Liberation Sans', Arial, sans-serif" >NSC</text>
<text x="1029.7" y="1321.3" font-size="23" font-family="'Liberation Sans', Arial, sans-serif">NSC Bmi1<tspan font-size="14" dy="-11">Over</tspan></text>
<text x="1029.7" y="1345.0" font-size="23" font-family="'Liberation Sans', Arial, sans-serif" >GIC</text>
<rect x="1793.8" y="1272.10" width="88.4" height="21.09" fill="#f8696b"/>
<rect x="1881.6" y="1272.10" width="89.9" height="21.09" fill="#f99799"/>
<rect x="1793.8" y="1292.49" width="88.4" height="21.09" fill="#f86b6d"/>
<rect x="1881.6" y="1292.49" width="89.9" height="21.09" fill="#faa7aa"/>
<rect x="1793.8" y="1312.88" width="88.4" height="21.09" fill="#f87b7d"/>
<rect x="1881.6" y="1312.88" width="89.9" height="21.09" fill="#f97d7f"/>
<rect x="1793.8" y="1333.27" width="88.4" height="21.09" fill="#f98688"/>
<rect x="1881.6" y="1333.27" width="89.9" height="21.09" fill="#fab2b5"/>
<rect x="1793.8" y="1353.66" width="88.4" height="21.09" fill="#f98b8d"/>
<rect x="1881.6" y="1353.66" width="89.9" height="21.09" fill="#f9999c"/>
<rect x="1793.8" y="1374.05" width="88.4" height="21.09" fill="#f98d8f"/>
<rect x="1881.6" y="1374.05" width="89.9" height="21.09" fill="#f8696b"/>
<rect x="1793.8" y="1394.44" width="88.4" height="21.09" fill="#f99193"/>
<rect x="1881.6" y="1394.44" width="89.9" height="21.09" fill="#fbe5e8"/>
<rect x="1793.8" y="1414.83" width="88.4" height="21.09" fill="#faa4a6"/>
<rect x="1881.6" y="1414.83" width="89.9" height="21.09" fill="#fab7ba"/>
<rect x="1793.8" y="1435.22" width="88.4" height="21.09" fill="#faa9ab"/>
<rect x="1881.6" y="1435.22" width="89.9" height="21.09" fill="#f99c9e"/>
<rect x="1793.8" y="1455.61" width="88.4" height="21.09" fill="#fab4b7"/>
<rect x="1881.6" y="1455.61" width="89.9" height="21.09" fill="#fcf3f6"/>
<rect x="1793.8" y="1476.00" width="88.4" height="21.09" fill="#fab5b8"/>
<rect x="1881.6" y="1476.00" width="89.9" height="21.09" fill="#fab9bc"/>
<rect x="1793.8" y="1496.39" width="88.4" height="21.09" fill="#fab5b8"/>
<rect x="1881.6" y="1496.39" width="89.9" height="21.09" fill="#fceef0"/>
<rect x="1793.8" y="1516.78" width="88.4" height="21.09" fill="#fabfc1"/>
<rect x="1881.6" y="1516.78" width="89.9" height="21.09" fill="#fbd1d4"/>
<rect x="1793.8" y="1537.17" width="88.4" height="21.09" fill="#fabfc1"/>
<rect x="1881.6" y="1537.17" width="89.9" height="21.09" fill="#fbdee1"/>
<rect x="1793.8" y="1557.56" width="88.4" height="21.09" fill="#fbc5c8"/>
<rect x="1881.6" y="1557.56" width="89.9" height="21.09" fill="#fbe6e9"/>
<rect x="1793.8" y="1577.95" width="88.4" height="21.09" fill="#fbcacd"/>
<rect x="1881.6" y="1577.95" width="89.9" height="21.09" fill="#fbe4e7"/>
<rect x="1793.8" y="1598.34" width="88.4" height="21.09" fill="#fbd5d8"/>
<rect x="1881.6" y="1598.34" width="89.9" height="21.09" fill="#fbdee0"/>
<rect x="1793.8" y="1618.73" width="88.4" height="21.09" fill="#fbdee1"/>
<rect x="1881.6" y="1618.73" width="89.9" height="21.09" fill="#fac0c3"/>
<rect x="1793.8" y="1639.12" width="88.4" height="21.09" fill="#fbe1e4"/>
<rect x="1881.6" y="1639.12" width="89.9" height="21.09" fill="#fabfc1"/>
<rect x="1793.8" y="1659.51" width="88.4" height="21.09" fill="#fbe4e7"/>
<rect x="1881.6" y="1659.51" width="89.9" height="21.09" fill="#faacaf"/>
<rect x="1793.8" y="1679.90" width="88.4" height="21.09" fill="#fbe8eb"/>
<rect x="1881.6" y="1679.90" width="89.9" height="21.09" fill="#fbc6c9"/>
<rect x="1793.8" y="1700.29" width="88.4" height="21.09" fill="#fcebee"/>
<rect x="1881.6" y="1700.29" width="89.9" height="21.09" fill="#fbe4e6"/>
<rect x="1793.8" y="1720.68" width="88.4" height="21.09" fill="#fcebee"/>
<rect x="1881.6" y="1720.68" width="89.9" height="21.09" fill="#fbdde0"/>
<rect x="1793.8" y="1741.07" width="88.4" height="21.09" fill="#fcecef"/>
<rect x="1881.6" y="1741.07" width="89.9" height="21.09" fill="#fbccce"/>
<rect x="1793.8" y="1761.46" width="88.4" height="21.09" fill="#fceef1"/>
<rect x="1881.6" y="1761.46" width="89.9" height="21.09" fill="#fbd3d6"/>
<rect x="1793.8" y="1781.85" width="88.4" height="21.09" fill="#fceff2"/>
<rect x="1881.6" y="1781.85" width="89.9" height="21.09" fill="#fbe5e8"/>
<rect x="1793.8" y="1802.24" width="88.4" height="21.09" fill="#fcf0f3"/>
<rect x="1881.6" y="1802.24" width="89.9" height="21.09" fill="#fbc7ca"/>
<rect x="1793.8" y="1822.63" width="88.4" height="21.09" fill="#fcf2f5"/>
<rect x="1881.6" y="1822.63" width="89.9" height="21.09" fill="#fbdadd"/>
<rect x="1793.8" y="1843.02" width="88.4" height="21.09" fill="#fcf6f9"/>
<rect x="1881.6" y="1843.02" width="89.9" height="21.09" fill="#fcf2f5"/>
<rect x="1793.8" y="1863.41" width="88.4" height="21.09" fill="#fcf9fc"/>
<rect x="1881.6" y="1863.41" width="89.9" height="21.09" fill="#fcfcff"/>
<rect x="1793.8" y="1883.80" width="88.4" height="21.09" fill="#fcfafd"/>
<rect x="1881.6" y="1883.80" width="89.9" height="21.09" fill="#fcf8fb"/>
<rect x="1793.8" y="1904.19" width="88.4" height="21.09" fill="#fcfafd"/>
<rect x="1881.6" y="1904.19" width="89.9" height="21.09" fill="#fbe4e7"/>
<rect x="1793.8" y="1924.58" width="88.4" height="21.09" fill="#fcfcff"/>
<rect x="1881.6" y="1924.58" width="89.9" height="21.09" fill="#fababd"/>
<text x="1296.3" y="1287.10" font-size="14.7" font-family="'Liberation Sans', Arial, sans-serif" stroke="#000" stroke-width="0.35" transform="translate(1296.3,0) scale(0.921,1) translate(-1296.3,0)">Neuropathic Pain Signaling In Dorsal Horn Neurons</text>
<text x="1839.3" y="1287.1" font-size="14.7" font-family="'Liberation Sans', Arial, sans-serif" text-anchor="middle" stroke="#000" stroke-width="0.3" transform="translate(1839.3,0) scale(0.921,1) translate(-1839.3,0)">3.19</text>
<text x="1927.8" y="1287.1" font-size="14.7" font-family="'Liberation Sans', Arial, sans-serif" text-anchor="middle" stroke="#000" stroke-width="0.3" transform="translate(1927.8,0) scale(0.921,1) translate(-1927.8,0)">5.34</text>
<text x="1296.3" y="1307.49" font-size="14.7" font-family="'Liberation Sans', Arial, sans-serif" stroke="#000" stroke-width="0.35" transform="translate(1296.3,0) scale(0.921,1) translate(-1296.3,0)">Complement System</text>
<text x="1839.3" y="1307.5" font-size="14.7" font-family="'Liberation Sans', Arial, sans-serif" text-anchor="middle" stroke="#000" stroke-width="0.3" transform="translate(1839.3,0) scale(0.921,1) translate(-1839.3,0)">3.16</text>
<text x="1927.8" y="1307.5" font-size="14.7" font-family="'Liberation Sans', Arial, sans-serif" text-anchor="middle" stroke="#000" stroke-width="0.3" transform="translate(1927.8,0) scale(0.921,1) translate(-1927.8,0)">4.68</text>
<text x="1296.3" y="1327.88" font-size="14.7" font-family="'Liberation Sans', Arial, sans-serif" stroke="#000" stroke-width="0.35" transform="translate(1296.3,0) scale(0.921,1) translate(-1296.3,0)">GPCR-Mediated Nutrient Sensing in Enteroendocrine Cells</text>
<text x="1839.3" y="1327.9" font-size="14.7" font-family="'Liberation Sans', Arial, sans-serif" text-anchor="middle" stroke="#000" stroke-width="0.3" transform="translate(1839.3,0) scale(0.921,1) translate(-1839.3,0)">2.96</text>
<text x="1927.8" y="1327.9" font-size="14.7" font-family="'Liberation Sans', Arial, sans-serif" text-anchor="middle" stroke="#000" stroke-width="0.3" transform="translate(1927.8,0) scale(0.921,1) translate(-1927.8,0)">6.34</text>
<text x="1296.3" y="1348.27" font-size="14.7" font-family="'Liberation Sans', Arial, sans-serif" stroke="#000" stroke-width="0.35" transform="translate(1296.3,0) scale(0.921,1) translate(-1296.3,0)">Cellular Effects of Sildenafil (Viagra)</text>
<text x="1839.3" y="1348.3" font-size="14.7" font-family="'Liberation Sans', Arial, sans-serif" text-anchor="middle" stroke="#000" stroke-width="0.3" transform="translate(1839.3,0) scale(0.921,1) translate(-1839.3,0)">2.82</text>
<text x="1927.8" y="1348.3" font-size="14.7" font-family="'Liberation Sans', Arial, sans-serif" text-anchor="middle" stroke="#000" stroke-width="0.3" transform="translate(1927.8,0) scale(0.921,1) translate(-1927.8,0)">4.26</text>
<text x="1296.3" y="1368.66" font-size="14.7" font-family="'Liberation Sans', Arial, sans-serif" stroke="#000" stroke-width="0.35" transform="translate(1296.3,0) scale(0.921,1) translate(-1296.3,0)">CREB Signaling in Neurons</text>
<text x="1839.3" y="1368.7" font-size="14.7" font-family="'Liberation Sans', Arial, sans-serif" text-anchor="middle" stroke="#000" stroke-width="0.3" transform="translate(1839.3,0) scale(0.921,1) translate(-1839.3,0)">2.76</text>
<text x="1927.8" y="1368.7" font-size="14.7" font-family="'Liberation Sans', Arial, sans-serif" text-anchor="middle" stroke="#000" stroke-width="0.3" transform="translate(1927.8,0) scale(0.921,1) translate(-1927.8,0)">5.24</text>
<text x="1296.3" y="1389.05" font-size="14.7" font-family="'Liberation Sans', Arial, sans-serif" stroke="#000" stroke-width="0.35" transform="translate(1296.3,0) scale(0.921,1) translate(-1296.3,0)">Axonal Guidance Signaling</text>
<text x="1839.3" y="1389.0" font-size="14.7" font-family="'Liberation Sans', Arial, sans-serif" text-anchor="middle" stroke="#000" stroke-width="0.3" transform="translate(1839.3,0) scale(0.921,1) translate(-1839.3,0)">2.73</text>
<text x="1927.8" y="1389.0" font-size="14.7" font-family="'Liberation Sans', Arial, sans-serif" text-anchor="middle" stroke="#000" stroke-width="0.3" transform="translate(1927.8,0) scale(0.921,1) translate(-1927.8,0)">7.14</text>
<text x="1296.3" y="1409.44" font-size="14.7" font-family="'Liberation Sans', Arial, sans-serif" stroke="#000" stroke-width="0.35" transform="translate(1296.3,0) scale(0.921,1) translate(-1296.3,0)">Citrulline-Nitric Oxide Cycle</text>
<text x="1839.3" y="1409.4" font-size="14.7" font-family="'Liberation Sans', Arial, sans-serif" text-anchor="middle" stroke="#000" stroke-width="0.3" transform="translate(1839.3,0) scale(0.921,1) translate(-1839.3,0)">2.68</text>
<text x="1927.8" y="1409.4" font-size="14.7" font-family="'Liberation Sans', Arial, sans-serif" text-anchor="middle" stroke="#000" stroke-width="0.3" transform="translate(1927.8,0) scale(0.921,1) translate(-1927.8,0)">2.26</text>
<text x="1296.3" y="1429.83" font-size="14.7" font-family="'Liberation Sans', Arial, sans-serif" stroke="#000" stroke-width="0.35" transform="translate(1296.3,0) scale(0.921,1) translate(-1296.3,0)">GABA Receptor Signaling</text>
<text x="1839.3" y="1429.8" font-size="14.7" font-family="'Liberation Sans', Arial, sans-serif" text-anchor="middle" stroke="#000" stroke-width="0.3" transform="translate(1839.3,0) scale(0.921,1) translate(-1839.3,0)">2.44</text>
<text x="1927.8" y="1429.8" font-size="14.7" font-family="'Liberation Sans', Arial, sans-serif" text-anchor="middle" stroke="#000" stroke-width="0.3" transform="translate(1927.8,0) scale(0.921,1) translate(-1927.8,0)">4.05</text>
<text x="1296.3" y="1450.22" font-size="14.7" font-family="'Liberation Sans', Arial, sans-serif" stroke="#000" stroke-width="0.35" transform="translate(1296.3,0) scale(0.921,1) translate(-1296.3,0)">Dopamine-DARPP32 Feedback in cAMP Signaling</text>
<text x="1839.3" y="1450.2" font-size="14.7" font-family="'Liberation Sans', Arial, sans-serif" text-anchor="middle" stroke="#000" stroke-width="0.3" transform="translate(1839.3,0) scale(0.921,1) translate(-1839.3,0)">2.38</text>
<text x="1927.8" y="1450.2" font-size="14.7" font-family="'Liberation Sans', Arial, sans-serif" text-anchor="middle" stroke="#000" stroke-width="0.3" transform="translate(1927.8,0) scale(0.921,1) translate(-1927.8,0)">5.13</text>
<text x="1296.3" y="1470.61" font-size="14.7" font-family="'Liberation Sans', Arial, sans-serif" stroke="#000" stroke-width="0.35" transform="translate(1296.3,0) scale(0.921,1) translate(-1296.3,0)">Neuroprotective Role of THOP1 in Alzheimer&#39;s Disease</text>
<text x="1839.3" y="1470.6" font-size="14.7" font-family="'Liberation Sans', Arial, sans-serif" text-anchor="middle" stroke="#000" stroke-width="0.3" transform="translate(1839.3,0) scale(0.921,1) translate(-1839.3,0)">2.23</text>
<text x="1927.8" y="1470.6" font-size="14.7" font-family="'Liberation Sans', Arial, sans-serif" text-anchor="middle" stroke="#000" stroke-width="0.3" transform="translate(1927.8,0) scale(0.921,1) translate(-1927.8,0)">1.71</text>
<text x="1296.3" y="1491.00" font-size="14.7" font-family="'Liberation Sans', Arial, sans-serif" stroke="#000" stroke-width="0.35" transform="translate(1296.3,0) scale(0.921,1) translate(-1296.3,0)">Glucocorticoid Receptor Signaling</text>
<text x="1839.3" y="1491.0" font-size="14.7" font-family="'Liberation Sans', Arial, sans-serif" text-anchor="middle" stroke="#000" stroke-width="0.3" transform="translate(1839.3,0) scale(0.921,1) translate(-1839.3,0)">2.22</text>
<text x="1927.8" y="1491.0" font-size="14.7" font-family="'Liberation Sans', Arial, sans-serif" text-anchor="middle" stroke="#000" stroke-width="0.3" transform="translate(1927.8,0) scale(0.921,1) translate(-1927.8,0)">3.99</text>
<text x="1296.3" y="1511.39" font-size="14.7" font-family="'Liberation Sans', Arial, sans-serif" stroke="#000" stroke-width="0.35" transform="translate(1296.3,0) scale(0.921,1) translate(-1296.3,0)">Type II Diabetes Mellitus Signaling</text>
<text x="1839.3" y="1511.4" font-size="14.7" font-family="'Liberation Sans', Arial, sans-serif" text-anchor="middle" stroke="#000" stroke-width="0.3" transform="translate(1839.3,0) scale(0.921,1) translate(-1839.3,0)">2.22</text>
<text x="1927.8" y="1511.4" font-size="14.7" font-family="'Liberation Sans', Arial, sans-serif" text-anchor="middle" stroke="#000" stroke-width="0.3" transform="translate(1927.8,0) scale(0.921,1) translate(-1927.8,0)">1.92</text>
<text x="1296.3" y="1531.78" font-size="14.7" font-family="'Liberation Sans', Arial, sans-serif" stroke="#000" stroke-width="0.35" transform="translate(1296.3,0) scale(0.921,1) translate(-1296.3,0)">Sphingosine-1-phosphate Signaling</text>
<text x="1839.3" y="1531.8" font-size="14.7" font-family="'Liberation Sans', Arial, sans-serif" text-anchor="middle" stroke="#000" stroke-width="0.3" transform="translate(1839.3,0) scale(0.921,1) translate(-1839.3,0)">2.1</text>
<text x="1927.8" y="1531.8" font-size="14.7" font-family="'Liberation Sans', Arial, sans-serif" text-anchor="middle" stroke="#000" stroke-width="0.3" transform="translate(1927.8,0) scale(0.921,1) translate(-1927.8,0)">3.04</text>
<text x="1296.3" y="1552.17" font-size="14.7" font-family="'Liberation Sans', Arial, sans-serif" stroke="#000" stroke-width="0.35" transform="translate(1296.3,0) scale(0.921,1) translate(-1296.3,0)">Phagosome Formation</text>
<text x="1839.3" y="1552.2" font-size="14.7" font-family="'Liberation Sans', Arial, sans-serif" text-anchor="middle" stroke="#000" stroke-width="0.3" transform="translate(1839.3,0) scale(0.921,1) translate(-1839.3,0)">2.1</text>
<text x="1927.8" y="1552.2" font-size="14.7" font-family="'Liberation Sans', Arial, sans-serif" text-anchor="middle" stroke="#000" stroke-width="0.3" transform="translate(1927.8,0) scale(0.921,1) translate(-1927.8,0)">2.53</text>
<text x="1296.3" y="1572.56" font-size="14.7" font-family="'Liberation Sans', Arial, sans-serif" stroke="#000" stroke-width="0.35" transform="translate(1296.3,0) scale(0.921,1) translate(-1296.3,0)">PKCθ Signaling in T Lymphocytes</text>
<text x="1839.3" y="1572.6" font-size="14.7" font-family="'Liberation Sans', Arial, sans-serif" text-anchor="middle" stroke="#000" stroke-width="0.3" transform="translate(1839.3,0) scale(0.921,1) translate(-1839.3,0)">2.02</text>
<text x="1927.8" y="1572.6" font-size="14.7" font-family="'Liberation Sans', Arial, sans-serif" text-anchor="middle" stroke="#000" stroke-width="0.3" transform="translate(1927.8,0) scale(0.921,1) translate(-1927.8,0)">2.22</text>
<text x="1296.3" y="1592.95" font-size="14.7" font-family="'Liberation Sans', Arial, sans-serif" stroke="#000" stroke-width="0.35" transform="translate(1296.3,0) scale(0.921,1) translate(-1296.3,0)">Superpathway of Citrulline Metabolism</text>
<text x="1839.3" y="1592.9" font-size="14.7" font-family="'Liberation Sans', Arial, sans-serif" text-anchor="middle" stroke="#000" stroke-width="0.3" transform="translate(1839.3,0) scale(0.921,1) translate(-1839.3,0)">1.95</text>
<text x="1927.8" y="1592.9" font-size="14.7" font-family="'Liberation Sans', Arial, sans-serif" text-anchor="middle" stroke="#000" stroke-width="0.3" transform="translate(1927.8,0) scale(0.921,1) translate(-1927.8,0)">2.29</text>
<text x="1296.3" y="1613.34" font-size="14.7" font-family="'Liberation Sans', Arial, sans-serif" stroke="#000" stroke-width="0.35" transform="translate(1296.3,0) scale(0.921,1) translate(-1296.3,0)">Gαi Signaling</text>
<text x="1839.3" y="1613.3" font-size="14.7" font-family="'Liberation Sans', Arial, sans-serif" text-anchor="middle" stroke="#000" stroke-width="0.3" transform="translate(1839.3,0) scale(0.921,1) translate(-1839.3,0)">1.81</text>
<text x="1927.8" y="1613.3" font-size="14.7" font-family="'Liberation Sans', Arial, sans-serif" text-anchor="middle" stroke="#000" stroke-width="0.3" transform="translate(1927.8,0) scale(0.921,1) translate(-1927.8,0)">2.55</text>
<text x="1296.3" y="1633.73" font-size="14.7" font-family="'Liberation Sans', Arial, sans-serif" stroke="#000" stroke-width="0.35" transform="translate(1296.3,0) scale(0.921,1) translate(-1296.3,0)">Synaptic Long Term Potentiation</text>
<text x="1839.3" y="1633.7" font-size="14.7" font-family="'Liberation Sans', Arial, sans-serif" text-anchor="middle" stroke="#000" stroke-width="0.3" transform="translate(1839.3,0) scale(0.921,1) translate(-1839.3,0)">1.7</text>
<text x="1927.8" y="1633.7" font-size="14.7" font-family="'Liberation Sans', Arial, sans-serif" text-anchor="middle" stroke="#000" stroke-width="0.3" transform="translate(1927.8,0) scale(0.921,1) translate(-1927.8,0)">3.71</text>
<text x="1296.3" y="1654.12" font-size="14.7" font-family="'Liberation Sans', Arial, sans-serif" stroke="#000" stroke-width="0.35" transform="translate(1296.3,0) scale(0.921,1) translate(-1296.3,0)">G-Protein Coupled Receptor Signaling</text>
<text x="1839.3" y="1654.1" font-size="14.7" font-family="'Liberation Sans', Arial, sans-serif" text-anchor="middle" stroke="#000" stroke-width="0.3" transform="translate(1839.3,0) scale(0.921,1) translate(-1839.3,0)">1.66</text>
<text x="1927.8" y="1654.1" font-size="14.7" font-family="'Liberation Sans', Arial, sans-serif" text-anchor="middle" stroke="#000" stroke-width="0.3" transform="translate(1927.8,0) scale(0.921,1) translate(-1927.8,0)">3.76</text>
<text x="1296.3" y="1674.51" font-size="14.7" font-family="'Liberation Sans', Arial, sans-serif" stroke="#000" stroke-width="0.35" transform="translate(1296.3,0) scale(0.921,1) translate(-1296.3,0)">Corticotropin Releasing Hormone Signaling</text>
<text x="1839.3" y="1674.5" font-size="14.7" font-family="'Liberation Sans', Arial, sans-serif" text-anchor="middle" stroke="#000" stroke-width="0.3" transform="translate(1839.3,0) scale(0.921,1) translate(-1839.3,0)">1.62</text>
<text x="1927.8" y="1674.5" font-size="14.7" font-family="'Liberation Sans', Arial, sans-serif" text-anchor="middle" stroke="#000" stroke-width="0.3" transform="translate(1927.8,0) scale(0.921,1) translate(-1927.8,0)">4.49</text>
<text x="1296.3" y="1694.90" font-size="14.7" font-family="'Liberation Sans', Arial, sans-serif" stroke="#000" stroke-width="0.35" transform="translate(1296.3,0) scale(0.921,1) translate(-1296.3,0)">GPCR-Mediated Integration of Enteroendocrine Signaling Exemplified by an L Cell</text>
<text x="1839.3" y="1694.9" font-size="14.7" font-family="'Liberation Sans', Arial, sans-serif" text-anchor="middle" stroke="#000" stroke-width="0.3" transform="translate(1839.3,0) scale(0.921,1) translate(-1839.3,0)">1.57</text>
<text x="1927.8" y="1694.9" font-size="14.7" font-family="'Liberation Sans', Arial, sans-serif" text-anchor="middle" stroke="#000" stroke-width="0.3" transform="translate(1927.8,0) scale(0.921,1) translate(-1927.8,0)">3.48</text>
<text x="1296.3" y="1715.29" font-size="14.7" font-family="'Liberation Sans', Arial, sans-serif" stroke="#000" stroke-width="0.35" transform="translate(1296.3,0) scale(0.921,1) translate(-1296.3,0)">Endocannabinoid Cancer Inhibition Pathway</text>
<text x="1839.3" y="1715.3" font-size="14.7" font-family="'Liberation Sans', Arial, sans-serif" text-anchor="middle" stroke="#000" stroke-width="0.3" transform="translate(1839.3,0) scale(0.921,1) translate(-1839.3,0)">1.54</text>
<text x="1927.8" y="1715.3" font-size="14.7" font-family="'Liberation Sans', Arial, sans-serif" text-anchor="middle" stroke="#000" stroke-width="0.3" transform="translate(1927.8,0) scale(0.921,1) translate(-1927.8,0)">2.31</text>
<text x="1296.3" y="1735.68" font-size="14.7" font-family="'Liberation Sans', Arial, sans-serif" stroke="#000" stroke-width="0.35" transform="translate(1296.3,0) scale(0.921,1) translate(-1296.3,0)">Glioblastoma Multiforme Signaling</text>
<text x="1839.3" y="1735.7" font-size="14.7" font-family="'Liberation Sans', Arial, sans-serif" text-anchor="middle" stroke="#000" stroke-width="0.3" transform="translate(1839.3,0) scale(0.921,1) translate(-1839.3,0)">1.53</text>
<text x="1927.8" y="1735.7" font-size="14.7" font-family="'Liberation Sans', Arial, sans-serif" text-anchor="middle" stroke="#000" stroke-width="0.3" transform="translate(1927.8,0) scale(0.921,1) translate(-1927.8,0)">2.57</text>
<text x="1296.3" y="1756.07" font-size="14.7" font-family="'Liberation Sans', Arial, sans-serif" stroke="#000" stroke-width="0.35" transform="translate(1296.3,0) scale(0.921,1) translate(-1296.3,0)">Leukocyte Extravasation Signaling</text>
<text x="1839.3" y="1756.1" font-size="14.7" font-family="'Liberation Sans', Arial, sans-serif" text-anchor="middle" stroke="#000" stroke-width="0.3" transform="translate(1839.3,0) scale(0.921,1) translate(-1839.3,0)">1.52</text>
<text x="1927.8" y="1756.1" font-size="14.7" font-family="'Liberation Sans', Arial, sans-serif" text-anchor="middle" stroke="#000" stroke-width="0.3" transform="translate(1927.8,0) scale(0.921,1) translate(-1927.8,0)">3.26</text>
<text x="1296.3" y="1776.46" font-size="14.7" font-family="'Liberation Sans', Arial, sans-serif" stroke="#000" stroke-width="0.35" transform="translate(1296.3,0) scale(0.921,1) translate(-1296.3,0)">Calcium Signaling</text>
<text x="1839.3" y="1776.5" font-size="14.7" font-family="'Liberation Sans', Arial, sans-serif" text-anchor="middle" stroke="#000" stroke-width="0.3" transform="translate(1839.3,0) scale(0.921,1) translate(-1839.3,0)">1.5</text>
<text x="1927.8" y="1776.5" font-size="14.7" font-family="'Liberation Sans', Arial, sans-serif" text-anchor="middle" stroke="#000" stroke-width="0.3" transform="translate(1927.8,0) scale(0.921,1) translate(-1927.8,0)">2.97</text>
<text x="1296.3" y="1796.85" font-size="14.7" font-family="'Liberation Sans', Arial, sans-serif" stroke="#000" stroke-width="0.35" transform="translate(1296.3,0) scale(0.921,1) translate(-1296.3,0)">Serotonin and Melatonin Biosynthesis</text>
<text x="1839.3" y="1796.8" font-size="14.7" font-family="'Liberation Sans', Arial, sans-serif" text-anchor="middle" stroke="#000" stroke-width="0.3" transform="translate(1839.3,0) scale(0.921,1) translate(-1839.3,0)">1.48</text>
<text x="1927.8" y="1796.8" font-size="14.7" font-family="'Liberation Sans', Arial, sans-serif" text-anchor="middle" stroke="#000" stroke-width="0.3" transform="translate(1927.8,0) scale(0.921,1) translate(-1927.8,0)">2.26</text>
<text x="1296.3" y="1817.24" font-size="14.7" font-family="'Liberation Sans', Arial, sans-serif" stroke="#000" stroke-width="0.35" transform="translate(1296.3,0) scale(0.921,1) translate(-1296.3,0)">nNOS Signaling in Skeletal Muscle Cells</text>
<text x="1839.3" y="1817.2" font-size="14.7" font-family="'Liberation Sans', Arial, sans-serif" text-anchor="middle" stroke="#000" stroke-width="0.3" transform="translate(1839.3,0) scale(0.921,1) translate(-1839.3,0)">1.47</text>
<text x="1927.8" y="1817.2" font-size="14.7" font-family="'Liberation Sans', Arial, sans-serif" text-anchor="middle" stroke="#000" stroke-width="0.3" transform="translate(1927.8,0) scale(0.921,1) translate(-1927.8,0)">3.44</text>
<text x="1296.3" y="1837.63" font-size="14.7" font-family="'Liberation Sans', Arial, sans-serif" stroke="#000" stroke-width="0.35" transform="translate(1296.3,0) scale(0.921,1) translate(-1296.3,0)">Opioid Signaling Pathway</text>
<text x="1839.3" y="1837.6" font-size="14.7" font-family="'Liberation Sans', Arial, sans-serif" text-anchor="middle" stroke="#000" stroke-width="0.3" transform="translate(1839.3,0) scale(0.921,1) translate(-1839.3,0)">1.45</text>
<text x="1927.8" y="1837.6" font-size="14.7" font-family="'Liberation Sans', Arial, sans-serif" text-anchor="middle" stroke="#000" stroke-width="0.3" transform="translate(1927.8,0) scale(0.921,1) translate(-1927.8,0)">2.67</text>
<text x="1296.3" y="1858.02" font-size="14.7" font-family="'Liberation Sans', Arial, sans-serif" stroke="#000" stroke-width="0.35" transform="translate(1296.3,0) scale(0.921,1) translate(-1296.3,0)">Amyotrophic Lateral Sclerosis Signaling</text>
<text x="1839.3" y="1858.0" font-size="14.7" font-family="'Liberation Sans', Arial, sans-serif" text-anchor="middle" stroke="#000" stroke-width="0.3" transform="translate(1839.3,0) scale(0.921,1) translate(-1839.3,0)">1.4</text>
<text x="1927.8" y="1858.0" font-size="14.7" font-family="'Liberation Sans', Arial, sans-serif" text-anchor="middle" stroke="#000" stroke-width="0.3" transform="translate(1927.8,0) scale(0.921,1) translate(-1927.8,0)">1.73</text>
<text x="1296.3" y="1878.41" font-size="14.7" font-family="'Liberation Sans', Arial, sans-serif" stroke="#000" stroke-width="0.35" transform="translate(1296.3,0) scale(0.921,1) translate(-1296.3,0)">Circadian Rhythm Signaling</text>
<text x="1839.3" y="1878.4" font-size="14.7" font-family="'Liberation Sans', Arial, sans-serif" text-anchor="middle" stroke="#000" stroke-width="0.3" transform="translate(1839.3,0) scale(0.921,1) translate(-1839.3,0)">1.36</text>
<text x="1927.8" y="1878.4" font-size="14.7" font-family="'Liberation Sans', Arial, sans-serif" text-anchor="middle" stroke="#000" stroke-width="0.3" transform="translate(1927.8,0) scale(0.921,1) translate(-1927.8,0)">1.35</text>
<text x="1296.3" y="1898.80" font-size="14.7" font-family="'Liberation Sans', Arial, sans-serif" stroke="#000" stroke-width="0.35" transform="translate(1296.3,0) scale(0.921,1) translate(-1296.3,0)">Role of Wnt/GSK-3β Signaling in the Pathogenesis of Influenza</text>
<text x="1839.3" y="1898.8" font-size="14.7" font-family="'Liberation Sans', Arial, sans-serif" text-anchor="middle" stroke="#000" stroke-width="0.3" transform="translate(1839.3,0) scale(0.921,1) translate(-1839.3,0)">1.35</text>
<text x="1927.8" y="1898.8" font-size="14.7" font-family="'Liberation Sans', Arial, sans-serif" text-anchor="middle" stroke="#000" stroke-width="0.3" transform="translate(1927.8,0) scale(0.921,1) translate(-1927.8,0)">1.5</text>
<text x="1296.3" y="1919.19" font-size="14.7" font-family="'Liberation Sans', Arial, sans-serif" stroke="#000" stroke-width="0.35" transform="translate(1296.3,0) scale(0.921,1) translate(-1296.3,0)">Eicosanoid Signaling</text>
<text x="1839.3" y="1919.2" font-size="14.7" font-family="'Liberation Sans', Arial, sans-serif" text-anchor="middle" stroke="#000" stroke-width="0.3" transform="translate(1839.3,0) scale(0.921,1) translate(-1839.3,0)">1.35</text>
<text x="1927.8" y="1919.2" font-size="14.7" font-family="'Liberation Sans', Arial, sans-serif" text-anchor="middle" stroke="#000" stroke-width="0.3" transform="translate(1927.8,0) scale(0.921,1) translate(-1927.8,0)">2.29</text>
<text x="1296.3" y="1939.58" font-size="14.7" font-family="'Liberation Sans', Arial, sans-serif" stroke="#000" stroke-width="0.35" transform="translate(1296.3,0) scale(0.921,1) translate(-1296.3,0)">cAMP-mediated signaling</text>
<text x="1839.3" y="1939.6" font-size="14.7" font-family="'Liberation Sans', Arial, sans-serif" text-anchor="middle" stroke="#000" stroke-width="0.3" transform="translate(1839.3,0) scale(0.921,1) translate(-1839.3,0)">1.32</text>
<text x="1927.8" y="1939.6" font-size="14.7" font-family="'Liberation Sans', Arial, sans-serif" text-anchor="middle" stroke="#000" stroke-width="0.3" transform="translate(1927.8,0) scale(0.921,1) translate(-1927.8,0)">3.94</text>
<line x1="1291.4" y1="1205.5" x2="1972.6" y2="1205.5" stroke="#000" stroke-width="1.3"/>
<line x1="1291.4" y1="1270.9" x2="1972.6" y2="1270.9" stroke="#000" stroke-width="1.3"/>
<line x1="1291.4" y1="1944.3" x2="1972.6" y2="1944.3" stroke="#000" stroke-width="1.3"/>
<text x="1295.3" y="1264.6" font-size="19" font-family="'Liberation Sans', Arial, sans-serif" font-weight="bold" textLength="155.5" lengthAdjust="spacingAndGlyphs" >Ingenuity Pathways</text>
<text x="1837.7" y="1242.7" font-size="15.5" font-family="'Liberation Sans', Arial, sans-serif" text-anchor="middle" font-weight="bold" textLength="48.5" lengthAdjust="spacingAndGlyphs" >Unique</text>
<text x="1837.7" y="1264.6" font-size="15.5" font-family="'Liberation Sans', Arial, sans-serif" text-anchor="middle" font-weight="bold" textLength="66.5" lengthAdjust="spacingAndGlyphs" >GIC peaks</text>
<text x="1926.5" y="1226.8" font-size="12" font-family="'Liberation Sans', Arial, sans-serif" text-anchor="middle" font-weight="bold" textLength="63.5" lengthAdjust="spacingAndGlyphs" >Unique GIC</text>
<text x="1926.5" y="1245.8" font-size="12" font-family="'Liberation Sans', Arial, sans-serif" text-anchor="middle" font-weight="bold" textLength="73.0" lengthAdjust="spacingAndGlyphs" >peaks shared</text>
<text x="1926.5" y="1264.6" font-size="12" font-family="'Liberation Sans', Arial, sans-serif" text-anchor="middle" font-weight="bold" textLength="55.5" lengthAdjust="spacingAndGlyphs" >with hGIC</text>
</svg>
</body></html>
